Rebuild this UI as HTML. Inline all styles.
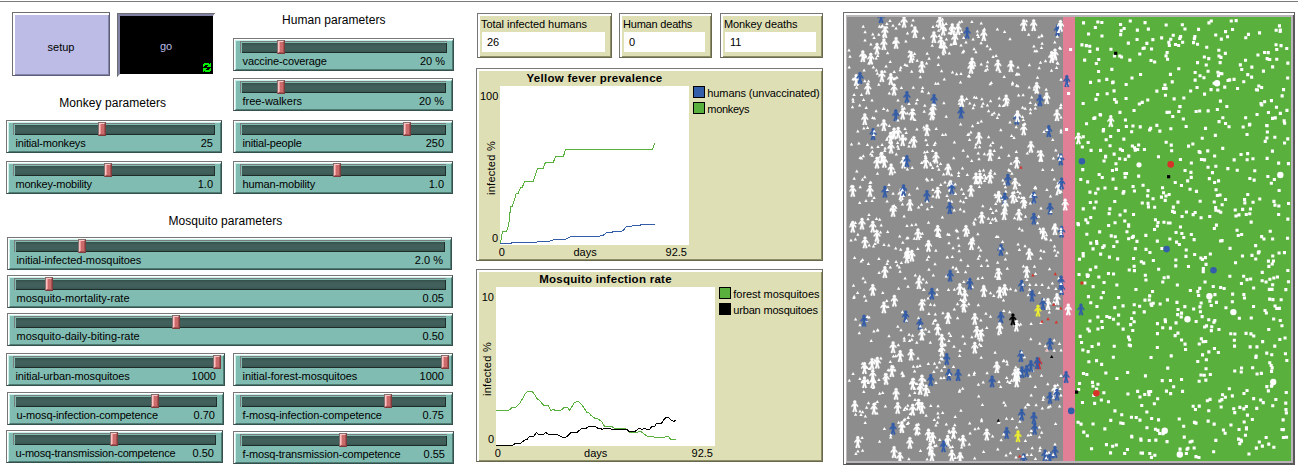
<!DOCTYPE html><html><head><meta charset="utf-8"><title>Yellow fever model</title>
<style>
html,body{margin:0;padding:0;background:#fff}
body{width:1298px;height:470px;position:relative;overflow:hidden;font-family:"Liberation Sans", sans-serif;font-size:11px;color:#000}
div,span{box-sizing:border-box}
.abs,.sl,.mon,.plot,.parea,.ptitle,.ptxt,.lbox,.note,.btn{position:absolute}
.topline{position:absolute;left:0;top:1px;width:1298px;height:1px;background:#7b7b7b}
.note{font-size:12px;letter-spacing:0.05px;white-space:nowrap;transform:translate(-50%,-50%)}
/* buttons */
.btn{border-style:solid}
.setup{left:12px;top:12px;width:98px;height:64px;border:1px solid;border-color:#6f6f6f #5c5c7c #5c5c7c #6f6f6f;background:#fff}
.setup i{position:absolute;left:2px;top:2px;right:0;bottom:0;background:#bcbce6;border-right:1px solid #8585a8;border-bottom:1px solid #8585a8}
.setup span,.go span{position:absolute;left:0;right:0;top:28px;text-align:center;font-size:11px;line-height:13px}
.go span{top:27px}
.go{left:117px;top:13px;width:98px;height:63px;border:0;background:#fff}
.go i{position:absolute;left:0;top:0;width:97px;height:63px;background:#8181a4;border-left:1px solid #6f6f6f;border-top:1px solid #6f6f6f;clip-path:polygon(0 0,100% 0,96px 3px,96px 61px,3px 61px,0 100%)}
.go b{position:absolute;left:3px;top:3px;width:93px;height:58px;background:#000}
.go span{color:#bcbce6}
/* slider */
.sl{border:1px solid;border-color:#777 #34514d #34514d #777;background:#fff}
.sl-in{position:absolute;left:1px;top:1px;right:0;bottom:0;background:#80bcb2;border:1px solid;border-color:#c9f1ea #4f7b75 #4f7b75 #c9f1ea}
.ch{position:absolute;left:4px;right:5px;top:0px;height:12px;border-left:1px solid #7b7b7b;border-top:1px solid #7b7b7b}
.ch i{position:absolute;left:1px;top:1px;right:0;bottom:0;background:linear-gradient(#35504b,#41605b 3px,#41605b 7px,#39554f);border-right:1px solid #1d2d2a;border-bottom:1px solid #1d2d2a}
.hd{position:absolute;top:-1px;width:8px;height:14px;background:#cc6b6b;border:1px solid;border-color:#85706f #7e3c3c #7e3c3c #85706f}
.hd i{position:absolute;left:0;top:0;right:0;bottom:0;border:1px solid;border-color:#fbc4c4 #a65252 #a65252 #fbc4c4;background:linear-gradient(to right,#ee9a9a 0,#ee9a9a 1px,#cc6b6b 1px)}
.sl-l{position:absolute;left:6.5px;bottom:2px;white-space:nowrap}
.sl-v{position:absolute;right:7px;bottom:2px;white-space:nowrap}
/* monitor */
.mon{border:1px solid;border-color:#777 #68684c #68684c #777;background:#fff}
.mon-in{position:absolute;left:2px;top:2px;right:0;bottom:0;background:#dfdfb6;border-right:1px solid #8e8e68;border-bottom:1px solid #8e8e68}
.mon-l{position:absolute;left:1px;top:2px;white-space:nowrap}
.mon-v{position:absolute;left:2px;right:5px;top:16px;height:20px;background:#fff}
.mon-v span{position:absolute;left:5px;top:4px}
/* plot */
.plot{border:1px solid;border-color:#777 #68684c #68684c #777;background:#dfdfb6;box-shadow:inset 2px 2px 0 #fff,inset -1px -1px 0 #8e8e68}
.parea{background:#fff}
.ptitle{font-weight:bold;font-size:11.5px;letter-spacing:0.27px;text-align:center;white-space:nowrap}
.ptxt{white-space:nowrap}
.rot{transform:rotate(-90deg)}
.lbox{width:12px;height:12px;border:1px solid #000}
/* view */
.view{position:absolute;left:843px;top:12px;width:452px;height:453px;background:#fff;border:1px solid;border-color:#6e6e6e #595959 #595959 #6e6e6e}
.view-in{position:absolute;left:2px;top:2px;right:0;bottom:0;background:#b9b5b9;border-right:1px solid #595959;border-bottom:1px solid #595959}
.view svg{position:absolute;left:3px;top:4px}
</style></head><body>
<div class="topline"></div>
<div class="btn setup"><i></i><span>setup</span></div>
<div class="btn go"><i></i><b></b><span>go</span><svg style="position:absolute;left:86px;top:50px" width="8" height="9" viewBox="0 0 8 9" shape-rendering="crispEdges"><path d="M1 0h5v1h-5zM7 0h1v1h-1zM0 1h8v1h-8zM0 2h2v1h-2zM5 2h3v1h-3zM0 3h1v1h-1zM4 3h4v1h-4zM0 5h4v1h-4zM7 5h1v1h-1zM0 6h3v1h-3zM6 6h2v1h-2zM0 7h8v1h-8zM0 8h1v1h-1zM2 8h5v1h-5z" fill="#06f006"/></svg></div>
<div class="note" style="left:333.8px;top:20px">Human parameters</div>
<div class="note" style="left:112.7px;top:103px">Monkey parameters</div>
<div class="note" style="left:225.4px;top:221px">Mosquito parameters</div>
<div class="sl" style="left:233px;top:38px;width:221px;height:33px"><div class="sl-in"><div class="ch"><i></i></div><div class="hd" style="left:41px"><i></i></div><span class="sl-l" style="letter-spacing:-0.120px">vaccine-coverage</span><span class="sl-v">20 %</span></div></div>
<div class="sl" style="left:233px;top:78px;width:220px;height:33px"><div class="sl-in"><div class="ch"><i></i></div><div class="hd" style="left:41px"><i></i></div><span class="sl-l" style="letter-spacing:-0.036px">free-walkers</span><span class="sl-v">20 %</span></div></div>
<div class="sl" style="left:6px;top:120px;width:216px;height:33px"><div class="sl-in"><div class="ch"><i></i></div><div class="hd" style="left:89px"><i></i></div><span class="sl-l" style="letter-spacing:-0.186px">initial-monkeys</span><span class="sl-v">25</span></div></div>
<div class="sl" style="left:233px;top:120px;width:220px;height:33px"><div class="sl-in"><div class="ch"><i></i></div><div class="hd" style="left:167px"><i></i></div><span class="sl-l" style="letter-spacing:-0.185px">initial-people</span><span class="sl-v">250</span></div></div>
<div class="sl" style="left:6px;top:161px;width:216px;height:33px"><div class="sl-in"><div class="ch"><i></i></div><div class="hd" style="left:95px"><i></i></div><span class="sl-l" style="letter-spacing:-0.214px">monkey-mobility</span><span class="sl-v">1.0</span></div></div>
<div class="sl" style="left:233px;top:161px;width:220px;height:33px"><div class="sl-in"><div class="ch"><i></i></div><div class="hd" style="left:97px"><i></i></div><span class="sl-l" style="letter-spacing:-0.138px">human-mobility</span><span class="sl-v">1.0</span></div></div>
<div class="sl" style="left:7px;top:237px;width:445px;height:33px"><div class="sl-in"><div class="ch"><i></i></div><div class="hd" style="left:68px"><i></i></div><span class="sl-l" style="letter-spacing:-0.092px">initial-infected-mosquitoes</span><span class="sl-v">2.0 %</span></div></div>
<div class="sl" style="left:7px;top:275px;width:446px;height:33px"><div class="sl-in"><div class="ch"><i></i></div><div class="hd" style="left:35px"><i></i></div><span class="sl-l" style="letter-spacing:0.027px">mosquito-mortality-rate</span><span class="sl-v">0.05</span></div></div>
<div class="sl" style="left:7px;top:313px;width:446px;height:33px"><div class="sl-in"><div class="ch"><i></i></div><div class="hd" style="left:162px"><i></i></div><span class="sl-l" style="letter-spacing:-0.016px">mosquito-daily-biting-rate</span><span class="sl-v">0.50</span></div></div>
<div class="sl" style="left:6px;top:353px;width:219px;height:33px"><div class="sl-in"><div class="ch"><i></i></div><div class="hd" style="left:204px"><i></i></div><span class="sl-l" style="letter-spacing:-0.113px">initial-urban-mosquitoes</span><span class="sl-v">1000</span></div></div>
<div class="sl" style="left:233px;top:353px;width:220px;height:33px"><div class="sl-in"><div class="ch"><i></i></div><div class="hd" style="left:205px"><i></i></div><span class="sl-l" style="letter-spacing:-0.058px">initial-forest-mosquitoes</span><span class="sl-v">1000</span></div></div>
<div class="sl" style="left:7px;top:392px;width:217px;height:33px"><div class="sl-in"><div class="ch"><i></i></div><div class="hd" style="left:141px"><i></i></div><span class="sl-l" style="letter-spacing:-0.131px">u-mosq-infection-competence</span><span class="sl-v">0.70</span></div></div>
<div class="sl" style="left:233px;top:392px;width:220px;height:33px"><div class="sl-in"><div class="ch"><i></i></div><div class="hd" style="left:148px"><i></i></div><span class="sl-l" style="letter-spacing:-0.092px">f-mosq-infection-competence</span><span class="sl-v">0.75</span></div></div>
<div class="sl" style="left:6px;top:430px;width:217px;height:33px"><div class="sl-in"><div class="ch"><i></i></div><div class="hd" style="left:101px"><i></i></div><span class="sl-l" style="letter-spacing:-0.193px">u-mosq-transmission-competence</span><span class="sl-v">0.50</span></div></div>
<div class="sl" style="left:233px;top:431px;width:221px;height:33px"><div class="sl-in"><div class="ch"><i></i></div><div class="hd" style="left:103px"><i></i></div><span class="sl-l" style="letter-spacing:-0.152px">f-mosq-transmission-competence</span><span class="sl-v">0.55</span></div></div>
<div class="mon" style="left:477px;top:13px;width:135px;height:45px"><div class="mon-in"><span class="mon-l" style="letter-spacing:-0.05px">Total infected humans</span><div class="mon-v"><span>26</span></div></div></div>
<div class="mon" style="left:619px;top:13px;width:93px;height:45px"><div class="mon-in"><span class="mon-l" style="letter-spacing:-0.2px">Human deaths</span><div class="mon-v"><span>0</span></div></div></div>
<div class="mon" style="left:720px;top:13px;width:103px;height:45px"><div class="mon-in"><span class="mon-l" style="letter-spacing:-0.1px">Monkey deaths</span><div class="mon-v"><span>11</span></div></div></div>
<div class="plot" style="left:476px;top:68px;width:347px;height:193px"></div>
<div class="parea" style="left:500px;top:86px;width:189px;height:159px"></div>
<div class="ptitle" style="left:444.5px;top:72px;width:300px">Yellow fever prevalence</div>
<div class="ptxt" style="left:480px;top:90px;width:18px;text-align:right">100</div>
<div class="ptxt" style="left:480px;top:232px;width:18px;text-align:right">0</div>
<div class="ptxt" style="left:498.7px;top:246px">0</div>
<div class="ptxt" style="left:535.1px;top:246px;width:100px;text-align:center">days</div>
<div class="ptxt" style="left:500px;top:246px;width:187px;text-align:right">92.5</div>
<div class="ptxt rot" style="left:440.7px;top:161.7px;width:100px;text-align:center;letter-spacing:0.27px">infected %</div>
<div class="lbox" style="left:693px;top:86px;background:#345da9"></div>
<div class="ptxt" style="left:707.3px;top:87px;letter-spacing:-0.1px">humans (unvaccinated)</div>
<div class="lbox" style="left:693px;top:102px;background:#59b03c"></div>
<div class="ptxt" style="left:707.3px;top:103px;letter-spacing:-0.3px">monkeys</div>
<div class="plot" style="left:476px;top:269px;width:347px;height:193px"></div>
<div class="parea" style="left:496px;top:287px;width:219px;height:159px"></div>
<div class="ptitle" style="left:455.5px;top:273px;width:300px">Mosquito infection rate</div>
<div class="ptxt" style="left:480px;top:291px;width:14px;text-align:right">10</div>
<div class="ptxt" style="left:480px;top:433px;width:14px;text-align:right">0</div>
<div class="ptxt" style="left:494.7px;top:447px">0</div>
<div class="ptxt" style="left:545.7px;top:447px;width:100px;text-align:center">days</div>
<div class="ptxt" style="left:496px;top:447px;width:217px;text-align:right">92.5</div>
<div class="ptxt rot" style="left:436.7px;top:362.7px;width:100px;text-align:center;letter-spacing:0.27px">infected %</div>
<div class="lbox" style="left:719px;top:287px;background:#59b03c"></div>
<div class="ptxt" style="left:733.3px;top:288px;letter-spacing:-0.04px">forest mosquitoes</div>
<div class="lbox" style="left:719px;top:303px;background:#000"></div>
<div class="ptxt" style="left:733.3px;top:304px;letter-spacing:-0.18px">urban mosquitoes</div>
<svg class="abs" style="left:0;top:0" width="1298" height="470">
<polyline points="500.3,244.1 502.5,231.6 506.6,231.6 508.6,225.3 510.7,206.4 512.3,206.4 516.3,193.5 518.2,193.2 520.5,187.6 522.4,187.3 524.5,181.3 533.3,181.3 537.4,168.4 543.3,168.4 545.5,162.2 553.4,162.2 555.5,156.5 563.4,156.5 565.6,149.6 652.5,149.6 654.6,143.0" fill="none" stroke="#59b03c" stroke-width="1" stroke-linejoin="round" shape-rendering="crispEdges"/>
<polyline points="500.3,243.7 510.7,243.5 512.3,242.5 535.8,242.5 537.7,241.6 549.6,241.3 555.3,239.3 565.6,239.3 571.3,236.2 598.6,236.2 603.2,235.3 606.6,232.4 611.3,232.4 613.8,231.6 620.7,231.6 624.1,229.7 626.4,226.2 631.4,226.2 634.6,225.3 639.6,225.3 642.5,224.4 654.6,224.4" fill="none" stroke="#345da9" stroke-width="1" stroke-linejoin="round" shape-rendering="crispEdges"/>
<polyline points="496.0,410.5 508.6,410.5 512.3,407.3 515.6,407.3 520.5,402.3 525.0,394.1 528.0,391.2 531.7,391.2 534.7,394.6 536.9,398.6 539.9,400.8 543.6,405.3 548.1,405.3 550.8,410.5 553.3,409.3 555.5,410.5 560.7,410.5 564.5,407.3 567.4,407.3 569.7,410.5 574.4,402.3 578.6,401.3 582.3,405.3 586.5,412.0 588.6,412.5 591.3,415.7 595.0,418.3 597.5,418.7 601.7,421.4 604.6,426.5 611.5,426.5 615.0,428.4 623.8,428.4 626.8,429.4 629.0,432.1 637.2,432.1 640.5,431.4 643.2,433.3 647.4,436.3 652.4,436.3 654.8,437.3 664.0,437.3 666.3,436.3 668.5,436.6 670.7,439.3 676.0,439.3" fill="none" stroke="#59b03c" stroke-width="1" stroke-linejoin="round" shape-rendering="crispEdges"/>
<polyline points="496.0,445.5 512.3,445.5 515.6,443.3 520.5,443.3 524.5,440.3 527.2,439.3 529.5,436.3 533.9,436.3 536.5,432.4 538.4,434.4 543.3,434.4 545.5,432.4 548.4,434.4 557.3,434.4 562.2,437.3 565.2,437.3 567.4,436.3 571.2,432.4 577.1,432.4 581.6,428.4 586.0,428.4 589.0,426.5 595.4,426.5 597.5,428.1 600.2,428.4 602.3,429.4 604.6,428.4 609.2,428.4 611.5,429.4 626.8,429.4 629.0,431.4 635.3,431.4 638.0,428.8 640.2,428.4 642.1,429.4 644.2,428.4 646.9,429.4 649.4,429.4 652.1,426.5 654.4,426.5 656.6,423.5 661.4,423.5 664.0,419.5 666.3,417.2 668.5,417.2 670.7,419.9 673.7,421.4 676.0,420.2" fill="none" stroke="#000" stroke-width="1" stroke-linejoin="round" shape-rendering="crispEdges"/>
</svg>
<div class="view"><div class="view-in"></div>
<svg width="444" height="444" viewBox="0 0 444 444"><defs><symbol id="p" viewBox="0 0 300 300" width="12" height="12" overflow="visible" stroke-width="5" stroke-linejoin="round"><circle cx="150" cy="45" r="40"/><polygon points="105,90 120,195 90,285 105,300 135,300 150,225 165,300 195,300 210,285 180,195 195,90"/><rect x="127" y="79" width="45" height="15"/><polygon points="195,90 240,150 225,180 165,105"/><polygon points="105,90 60,150 75,180 135,105"/></symbol></defs>
<rect x="0" y="0" width="216" height="444" fill="#8d8d8d"/>
<rect x="216" y="0" width="12" height="444" fill="#e07f96"/>
<rect x="228" y="0" width="216" height="444" fill="#59b03c"/>
<path d="M167.6 199.2l1.7 3h-3.4zM172.4 209.7l1.7 3h-3.4zM66.3 40.3l1.7 3h-3.4zM10.9 432.6l1.7 3h-3.4zM35.4 7.0l1.7 3h-3.4zM42.3 106.9l1.7 3h-3.4zM127.3 86.3l1.7 3h-3.4zM3.0 37.8l1.7 3h-3.4zM213.1 370.1l1.7 3h-3.4zM50.7 127.6l1.7 3h-3.4zM24.9 128.4l1.7 3h-3.4zM147.2 94.3l1.7 3h-3.4zM209.8 175.3l1.7 3h-3.4zM167.0 119.1l1.7 3h-3.4zM88.9 406.5l1.7 3h-3.4zM4.3 205.0l1.7 3h-3.4zM96.9 84.3l1.7 3h-3.4zM138.5 51.7l1.7 3h-3.4zM185.2 429.3l1.7 3h-3.4zM6.2 82.8l1.7 3h-3.4zM10.9 64.8l1.7 3h-3.4zM131.4 365.7l1.7 3h-3.4zM125.5 107.3l1.7 3h-3.4zM98.1 422.4l1.7 3h-3.4zM83.9 276.4l1.7 3h-3.4zM131.4 319.6l1.7 3h-3.4zM43.7 418.5l1.7 3h-3.4zM91.3 46.1l1.7 3h-3.4zM158.8 172.7l1.7 3h-3.4zM106.1 229.2l1.7 3h-3.4zM50.4 246.5l1.7 3h-3.4zM61.4 404.0l1.7 3h-3.4zM89.2 110.0l1.7 3h-3.4zM114.6 428.5l1.7 3h-3.4zM209.9 289.5l1.7 3h-3.4zM31.8 15.8l1.7 3h-3.4zM68.1 15.2l1.7 3h-3.4zM16.3 137.3l1.7 3h-3.4zM117.8 324.7l1.7 3h-3.4zM151.2 349.4l1.7 3h-3.4zM102.3 34.6l1.7 3h-3.4zM8.4 220.4l1.7 3h-3.4zM125.5 268.3l1.7 3h-3.4zM212.6 387.5l1.7 3h-3.4zM149.2 201.8l1.7 3h-3.4zM112.0 226.8l1.7 3h-3.4zM50.8 307.7l1.7 3h-3.4zM197.1 113.0l1.7 3h-3.4zM131.7 228.5l1.7 3h-3.4zM199.2 219.7l1.7 3h-3.4zM44.1 190.0l1.7 3h-3.4zM188.6 169.5l1.7 3h-3.4zM30.5 154.7l1.7 3h-3.4zM15.6 431.8l1.7 3h-3.4zM60.3 94.6l1.7 3h-3.4zM106.7 139.2l1.7 3h-3.4zM69.9 365.0l1.7 3h-3.4zM145.8 124.1l1.7 3h-3.4zM6.1 60.2l1.7 3h-3.4zM177.9 104.9l1.7 3h-3.4zM26.4 48.4l1.7 3h-3.4zM80.2 34.7l1.7 3h-3.4zM39.9 5.1l1.7 3h-3.4zM40.0 120.2l1.7 3h-3.4zM108.1 439.0l1.7 3h-3.4zM150.4 98.9l1.7 3h-3.4zM29.5 200.0l1.7 3h-3.4zM81.9 250.7l1.7 3h-3.4zM74.7 144.0l1.7 3h-3.4zM185.6 351.7l1.7 3h-3.4zM192.8 431.8l1.7 3h-3.4zM169.6 141.4l1.7 3h-3.4zM109.0 16.7l1.7 3h-3.4zM60.4 405.1l1.7 3h-3.4zM171.6 76.5l1.7 3h-3.4zM31.8 65.8l1.7 3h-3.4zM145.7 194.1l1.7 3h-3.4zM148.1 333.8l1.7 3h-3.4zM156.5 281.5l1.7 3h-3.4zM120.7 137.5l1.7 3h-3.4zM131.2 134.4l1.7 3h-3.4zM59.9 219.4l1.7 3h-3.4zM130.3 12.6l1.7 3h-3.4zM86.9 352.9l1.7 3h-3.4zM37.4 410.0l1.7 3h-3.4zM171.7 178.2l1.7 3h-3.4zM93.9 359.3l1.7 3h-3.4zM69.2 84.6l1.7 3h-3.4zM150.8 430.4l1.7 3h-3.4zM4.5 125.4l1.7 3h-3.4zM24.2 322.0l1.7 3h-3.4zM55.1 87.4l1.7 3h-3.4zM136.2 363.5l1.7 3h-3.4zM185.1 235.4l1.7 3h-3.4zM131.7 377.4l1.7 3h-3.4zM173.8 397.6l1.7 3h-3.4zM43.3 342.9l1.7 3h-3.4zM190.5 58.7l1.7 3h-3.4zM178.4 185.9l1.7 3h-3.4zM87.4 301.9l1.7 3h-3.4zM77.8 361.6l1.7 3h-3.4zM136.5 151.5l1.7 3h-3.4zM104.2 11.1l1.7 3h-3.4zM193.9 212.2l1.7 3h-3.4zM180.1 436.1l1.7 3h-3.4zM15.1 419.1l1.7 3h-3.4zM84.9 188.0l1.7 3h-3.4zM81.1 279.4l1.7 3h-3.4zM98.2 325.7l1.7 3h-3.4zM37.0 225.9l1.7 3h-3.4zM180.5 385.7l1.7 3h-3.4zM122.8 84.4l1.7 3h-3.4zM56.8 401.4l1.7 3h-3.4zM174.7 178.9l1.7 3h-3.4zM80.4 190.3l1.7 3h-3.4zM41.2 351.2l1.7 3h-3.4zM77.4 281.4l1.7 3h-3.4zM202.3 293.5l1.7 3h-3.4zM40.6 34.2l1.7 3h-3.4zM47.2 53.0l1.7 3h-3.4zM132.5 325.5l1.7 3h-3.4zM12.7 86.4l1.7 3h-3.4zM60.4 150.4l1.7 3h-3.4zM112.4 372.8l1.7 3h-3.4zM18.2 263.3l1.7 3h-3.4zM199.2 70.8l1.7 3h-3.4zM116.9 262.9l1.7 3h-3.4zM62.3 175.8l1.7 3h-3.4zM140.9 247.1l1.7 3h-3.4zM64.8 6.6l1.7 3h-3.4zM88.7 301.5l1.7 3h-3.4zM86.3 256.4l1.7 3h-3.4zM194.0 189.4l1.7 3h-3.4zM53.7 230.7l1.7 3h-3.4zM32.6 422.8l1.7 3h-3.4zM12.7 183.9l1.7 3h-3.4zM114.0 55.1l1.7 3h-3.4zM98.6 115.7l1.7 3h-3.4zM159.7 359.1l1.7 3h-3.4zM29.3 212.1l1.7 3h-3.4zM134.5 158.4l1.7 3h-3.4zM121.8 260.7l1.7 3h-3.4zM203.8 221.3l1.7 3h-3.4zM146.8 276.9l1.7 3h-3.4zM134.2 45.5l1.7 3h-3.4zM20.3 298.0l1.7 3h-3.4zM104.6 156.2l1.7 3h-3.4zM30.3 383.0l1.7 3h-3.4zM134.2 338.7l1.7 3h-3.4zM56.7 356.7l1.7 3h-3.4zM128.5 128.4l1.7 3h-3.4zM41.0 288.1l1.7 3h-3.4zM18.6 36.9l1.7 3h-3.4zM147.3 131.9l1.7 3h-3.4zM195.1 266.0l1.7 3h-3.4zM164.0 144.7l1.7 3h-3.4zM155.9 161.6l1.7 3h-3.4zM122.7 404.6l1.7 3h-3.4zM114.4 437.0l1.7 3h-3.4zM207.2 321.5l1.7 3h-3.4zM79.5 160.3l1.7 3h-3.4zM43.3 248.5l1.7 3h-3.4zM127.3 78.4l1.7 3h-3.4zM183.2 357.6l1.7 3h-3.4zM122.3 425.6l1.7 3h-3.4zM15.6 241.0l1.7 3h-3.4zM60.0 46.8l1.7 3h-3.4zM140.6 43.3l1.7 3h-3.4zM48.7 337.2l1.7 3h-3.4zM85.6 149.0l1.7 3h-3.4zM115.9 317.6l1.7 3h-3.4zM89.0 363.9l1.7 3h-3.4zM82.1 39.7l1.7 3h-3.4zM7.2 159.7l1.7 3h-3.4zM91.1 64.7l1.7 3h-3.4zM81.6 74.2l1.7 3h-3.4zM60.1 390.3l1.7 3h-3.4zM66.3 68.8l1.7 3h-3.4zM99.3 257.4l1.7 3h-3.4zM25.0 81.6l1.7 3h-3.4zM102.0 224.2l1.7 3h-3.4zM87.3 401.1l1.7 3h-3.4zM175.2 211.4l1.7 3h-3.4zM195.8 150.9l1.7 3h-3.4zM184.9 176.1l1.7 3h-3.4zM171.2 429.9l1.7 3h-3.4zM211.9 289.7l1.7 3h-3.4zM102.2 163.9l1.7 3h-3.4zM187.5 183.3l1.7 3h-3.4zM194.5 356.8l1.7 3h-3.4zM58.5 235.6l1.7 3h-3.4zM2.3 361.8l1.7 3h-3.4zM76.6 270.9l1.7 3h-3.4zM149.1 36.9l1.7 3h-3.4zM66.4 347.7l1.7 3h-3.4zM21.3 364.0l1.7 3h-3.4zM106.8 416.9l1.7 3h-3.4zM88.0 245.2l1.7 3h-3.4zM17.8 62.2l1.7 3h-3.4zM160.3 345.5l1.7 3h-3.4zM82.0 312.8l1.7 3h-3.4zM99.1 5.0l1.7 3h-3.4zM132.6 128.2l1.7 3h-3.4zM65.2 148.9l1.7 3h-3.4zM42.0 166.1l1.7 3h-3.4zM60.0 207.1l1.7 3h-3.4zM21.6 62.4l1.7 3h-3.4zM152.2 79.5l1.7 3h-3.4zM151.2 44.6l1.7 3h-3.4zM94.0 339.7l1.7 3h-3.4zM110.5 285.2l1.7 3h-3.4zM83.8 146.2l1.7 3h-3.4zM132.0 140.2l1.7 3h-3.4zM210.9 233.6l1.7 3h-3.4zM140.0 47.2l1.7 3h-3.4zM169.2 363.5l1.7 3h-3.4zM116.2 131.7l1.7 3h-3.4zM110.9 253.0l1.7 3h-3.4zM153.7 368.0l1.7 3h-3.4zM134.9 87.5l1.7 3h-3.4zM90.5 147.2l1.7 3h-3.4zM58.4 388.9l1.7 3h-3.4zM193.7 239.5l1.7 3h-3.4zM58.0 400.5l1.7 3h-3.4zM28.0 363.2l1.7 3h-3.4zM53.1 252.8l1.7 3h-3.4zM174.0 200.3l1.7 3h-3.4zM199.1 439.9l1.7 3h-3.4zM158.4 168.3l1.7 3h-3.4zM5.5 88.2l1.7 3h-3.4zM27.1 178.9l1.7 3h-3.4zM53.8 410.4l1.7 3h-3.4zM144.3 64.1l1.7 3h-3.4zM101.6 181.4l1.7 3h-3.4zM88.3 124.3l1.7 3h-3.4zM194.0 304.1l1.7 3h-3.4zM193.9 231.8l1.7 3h-3.4zM193.7 141.5l1.7 3h-3.4zM93.8 166.1l1.7 3h-3.4zM189.1 386.3l1.7 3h-3.4zM108.6 175.0l1.7 3h-3.4zM113.6 105.6l1.7 3h-3.4zM188.5 440.1l1.7 3h-3.4zM80.2 240.7l1.7 3h-3.4zM160.3 249.8l1.7 3h-3.4zM170.0 54.9l1.7 3h-3.4zM64.8 320.8l1.7 3h-3.4zM95.4 198.4l1.7 3h-3.4zM126.1 20.6l1.7 3h-3.4zM67.3 219.7l1.7 3h-3.4zM188.3 89.6l1.7 3h-3.4zM14.5 139.4l1.7 3h-3.4zM38.4 387.5l1.7 3h-3.4zM136.1 84.7l1.7 3h-3.4zM66.9 360.2l1.7 3h-3.4zM91.1 387.2l1.7 3h-3.4zM96.4 35.2l1.7 3h-3.4zM152.6 86.8l1.7 3h-3.4zM64.6 120.7l1.7 3h-3.4zM26.5 227.4l1.7 3h-3.4zM49.9 58.7l1.7 3h-3.4zM18.2 404.0l1.7 3h-3.4zM129.1 125.6l1.7 3h-3.4zM20.5 125.9l1.7 3h-3.4zM157.6 13.1l1.7 3h-3.4zM192.4 274.0l1.7 3h-3.4zM199.0 220.4l1.7 3h-3.4zM138.7 158.6l1.7 3h-3.4zM63.8 364.3l1.7 3h-3.4zM159.8 234.3l1.7 3h-3.4zM130.9 104.0l1.7 3h-3.4zM168.8 348.5l1.7 3h-3.4zM182.8 265.9l1.7 3h-3.4zM207.8 23.5l1.7 3h-3.4zM34.2 8.2l1.7 3h-3.4zM95.6 116.1l1.7 3h-3.4zM39.8 281.9l1.7 3h-3.4zM134.1 24.2l1.7 3h-3.4zM133.7 231.6l1.7 3h-3.4zM20.8 361.4l1.7 3h-3.4zM107.3 290.4l1.7 3h-3.4zM68.9 205.8l1.7 3h-3.4zM10.9 215.8l1.7 3h-3.4zM32.7 200.7l1.7 3h-3.4zM88.9 231.7l1.7 3h-3.4zM102.0 412.0l1.7 3h-3.4zM208.9 269.9l1.7 3h-3.4zM183.3 184.5l1.7 3h-3.4zM73.5 432.1l1.7 3h-3.4zM87.4 286.3l1.7 3h-3.4zM195.3 389.5l1.7 3h-3.4zM184.3 412.0l1.7 3h-3.4zM47.7 153.3l1.7 3h-3.4zM36.7 90.0l1.7 3h-3.4zM102.2 216.1l1.7 3h-3.4zM105.3 238.1l1.7 3h-3.4zM78.9 121.2l1.7 3h-3.4zM57.6 173.3l1.7 3h-3.4zM23.9 25.6l1.7 3h-3.4zM31.1 106.4l1.7 3h-3.4zM70.3 169.5l1.7 3h-3.4zM71.0 339.5l1.7 3h-3.4zM130.9 215.3l1.7 3h-3.4zM29.1 92.2l1.7 3h-3.4zM30.8 311.3l1.7 3h-3.4zM143.2 65.2l1.7 3h-3.4zM97.3 60.5l1.7 3h-3.4zM23.8 163.4l1.7 3h-3.4zM7.2 277.8l1.7 3h-3.4zM208.8 131.6l1.7 3h-3.4zM120.3 155.9l1.7 3h-3.4zM81.3 345.1l1.7 3h-3.4zM85.2 26.8l1.7 3h-3.4zM107.4 123.5l1.7 3h-3.4zM164.9 154.7l1.7 3h-3.4zM159.5 399.7l1.7 3h-3.4zM150.7 243.8l1.7 3h-3.4zM85.0 160.7l1.7 3h-3.4zM82.0 373.0l1.7 3h-3.4zM189.8 32.2l1.7 3h-3.4zM121.9 115.6l1.7 3h-3.4zM101.5 271.1l1.7 3h-3.4zM151.9 95.7l1.7 3h-3.4zM117.1 270.0l1.7 3h-3.4zM188.5 168.4l1.7 3h-3.4zM30.8 223.5l1.7 3h-3.4zM6.5 266.8l1.7 3h-3.4zM48.7 229.5l1.7 3h-3.4zM52.7 217.6l1.7 3h-3.4zM134.4 247.1l1.7 3h-3.4zM58.0 46.1l1.7 3h-3.4zM46.1 174.7l1.7 3h-3.4zM35.8 273.9l1.7 3h-3.4zM80.3 126.1l1.7 3h-3.4zM139.0 159.8l1.7 3h-3.4zM158.4 386.5l1.7 3h-3.4zM67.8 373.9l1.7 3h-3.4zM10.6 273.9l1.7 3h-3.4zM55.8 223.7l1.7 3h-3.4zM153.8 111.2l1.7 3h-3.4zM183.5 90.5l1.7 3h-3.4zM210.5 282.5l1.7 3h-3.4zM171.9 55.5l1.7 3h-3.4zM51.0 81.6l1.7 3h-3.4zM169.6 408.5l1.7 3h-3.4zM55.4 293.3l1.7 3h-3.4zM12.3 314.2l1.7 3h-3.4zM62.6 322.1l1.7 3h-3.4zM7.6 239.1l1.7 3h-3.4zM67.6 352.6l1.7 3h-3.4zM155.0 180.0l1.7 3h-3.4zM145.1 95.7l1.7 3h-3.4zM39.1 47.5l1.7 3h-3.4zM105.5 53.4l1.7 3h-3.4zM122.6 120.9l1.7 3h-3.4zM19.2 88.9l1.7 3h-3.4zM15.6 393.2l1.7 3h-3.4zM40.7 213.1l1.7 3h-3.4zM104.7 182.8l1.7 3h-3.4zM14.2 242.6l1.7 3h-3.4zM42.0 128.4l1.7 3h-3.4zM123.1 414.4l1.7 3h-3.4zM37.8 52.7l1.7 3h-3.4zM161.8 136.8l1.7 3h-3.4zM15.5 160.8l1.7 3h-3.4zM54.0 407.2l1.7 3h-3.4zM177.5 338.2l1.7 3h-3.4zM203.5 177.4l1.7 3h-3.4zM134.2 4.6l1.7 3h-3.4zM155.6 223.1l1.7 3h-3.4zM137.3 156.2l1.7 3h-3.4zM70.2 41.8l1.7 3h-3.4zM11.9 57.9l1.7 3h-3.4zM75.7 68.9l1.7 3h-3.4zM4.0 221.5l1.7 3h-3.4zM115.9 419.4l1.7 3h-3.4zM16.1 259.6l1.7 3h-3.4zM102.3 413.4l1.7 3h-3.4zM39.7 120.7l1.7 3h-3.4zM70.3 81.1l1.7 3h-3.4zM156.8 291.9l1.7 3h-3.4zM132.7 152.0l1.7 3h-3.4zM109.0 250.2l1.7 3h-3.4zM148.2 199.8l1.7 3h-3.4zM108.3 165.6l1.7 3h-3.4zM197.0 232.8l1.7 3h-3.4zM128.0 410.3l1.7 3h-3.4zM212.5 325.1l1.7 3h-3.4zM119.0 23.5l1.7 3h-3.4zM192.2 49.3l1.7 3h-3.4zM200.8 365.3l1.7 3h-3.4zM212.7 28.9l1.7 3h-3.4zM111.7 153.9l1.7 3h-3.4zM92.5 215.6l1.7 3h-3.4zM95.4 333.5l1.7 3h-3.4zM107.3 25.0l1.7 3h-3.4zM170.9 67.2l1.7 3h-3.4zM9.8 152.5l1.7 3h-3.4zM90.2 270.7l1.7 3h-3.4zM100.7 215.6l1.7 3h-3.4zM135.4 386.1l1.7 3h-3.4zM143.7 189.9l1.7 3h-3.4zM181.1 416.6l1.7 3h-3.4zM46.4 337.6l1.7 3h-3.4zM29.4 51.5l1.7 3h-3.4zM77.8 86.7l1.7 3h-3.4zM78.4 136.9l1.7 3h-3.4zM135.8 187.3l1.7 3h-3.4zM30.4 54.8l1.7 3h-3.4zM90.6 217.1l1.7 3h-3.4zM62.7 376.4l1.7 3h-3.4zM199.9 171.0l1.7 3h-3.4zM137.6 161.9l1.7 3h-3.4zM141.6 118.2l1.7 3h-3.4zM53.9 181.5l1.7 3h-3.4zM55.4 185.5l1.7 3h-3.4zM165.0 46.3l1.7 3h-3.4zM46.4 348.0l1.7 3h-3.4zM143.9 151.7l1.7 3h-3.4zM6.9 278.9l1.7 3h-3.4zM109.2 211.4l1.7 3h-3.4zM49.1 9.6l1.7 3h-3.4zM139.8 308.9l1.7 3h-3.4zM100.0 177.0l1.7 3h-3.4zM125.9 219.2l1.7 3h-3.4zM22.3 350.0l1.7 3h-3.4zM134.1 326.9l1.7 3h-3.4zM156.9 341.8l1.7 3h-3.4zM80.6 161.5l1.7 3h-3.4zM25.1 182.1l1.7 3h-3.4zM169.3 133.1l1.7 3h-3.4zM122.4 57.5l1.7 3h-3.4zM76.8 108.6l1.7 3h-3.4zM211.8 259.5l1.7 3h-3.4zM182.4 46.3l1.7 3h-3.4zM207.7 231.4l1.7 3h-3.4zM153.1 52.7l1.7 3h-3.4zM171.0 48.6l1.7 3h-3.4zM114.6 13.0l1.7 3h-3.4zM206.8 283.3l1.7 3h-3.4zM65.5 94.9l1.7 3h-3.4zM90.9 394.5l1.7 3h-3.4zM202.6 250.3l1.7 3h-3.4zM85.6 132.1l1.7 3h-3.4zM19.9 348.7l1.7 3h-3.4zM72.8 51.8l1.7 3h-3.4zM113.9 241.3l1.7 3h-3.4zM23.0 164.0l1.7 3h-3.4zM112.2 232.2l1.7 3h-3.4zM127.8 46.6l1.7 3h-3.4zM79.5 263.5l1.7 3h-3.4zM131.1 259.8l1.7 3h-3.4zM162.8 152.1l1.7 3h-3.4zM127.0 355.8l1.7 3h-3.4zM87.3 126.1l1.7 3h-3.4zM210.6 366.3l1.7 3h-3.4zM35.1 126.0l1.7 3h-3.4zM106.0 174.3l1.7 3h-3.4zM137.4 10.2l1.7 3h-3.4zM124.9 2.9l1.7 3h-3.4zM134.6 402.3l1.7 3h-3.4zM19.7 301.9l1.7 3h-3.4zM94.6 52.3l1.7 3h-3.4zM17.1 51.4l1.7 3h-3.4zM152.9 309.7l1.7 3h-3.4zM140.4 50.5l1.7 3h-3.4zM115.7 369.7l1.7 3h-3.4zM102.1 14.2l1.7 3h-3.4zM151.0 217.9l1.7 3h-3.4zM110.4 212.4l1.7 3h-3.4zM126.2 89.3l1.7 3h-3.4zM76.1 260.6l1.7 3h-3.4zM126.8 203.8l1.7 3h-3.4zM151.2 174.8l1.7 3h-3.4zM57.4 321.8l1.7 3h-3.4zM15.6 363.3l1.7 3h-3.4zM194.5 29.1l1.7 3h-3.4zM114.6 170.6l1.7 3h-3.4zM23.7 135.3l1.7 3h-3.4zM150.1 250.4l1.7 3h-3.4zM96.7 427.6l1.7 3h-3.4zM54.4 69.1l1.7 3h-3.4zM75.0 72.2l1.7 3h-3.4zM213.2 162.6l1.7 3h-3.4zM154.3 128.4l1.7 3h-3.4zM58.1 110.0l1.7 3h-3.4zM143.6 126.4l1.7 3h-3.4zM18.1 13.2l1.7 3h-3.4zM187.2 70.8l1.7 3h-3.4zM131.2 239.7l1.7 3h-3.4zM151.0 259.7l1.7 3h-3.4zM92.5 343.6l1.7 3h-3.4zM98.0 163.4l1.7 3h-3.4zM109.2 249.4l1.7 3h-3.4zM118.6 253.3l1.7 3h-3.4zM66.1 1.6l1.7 3h-3.4zM211.6 136.5l1.7 3h-3.4zM143.3 30.3l1.7 3h-3.4zM193.2 429.1l1.7 3h-3.4zM117.0 192.6l1.7 3h-3.4z" fill="#fff"/>
<path d="M372.4 38.8h3.1v3.1h-3.1zM375.6 269.9h3.1v3.1h-3.1zM424.2 387.2h3.1v3.1h-3.1zM250.5 62.2h3.1v3.1h-3.1zM269.7 305.4h3.1v3.1h-3.1zM235.2 413.6h3.1v3.1h-3.1zM418.6 40.1h3.1v3.1h-3.1zM418.8 113.4h3.1v3.1h-3.1zM275.3 120.6h3.1v3.1h-3.1zM260.9 238.6h3.1v3.1h-3.1zM413.1 68.9h3.1v3.1h-3.1zM319.2 349.6h3.1v3.1h-3.1zM357.5 350.2h3.1v3.1h-3.1zM439.3 251.9h3.1v3.1h-3.1zM418.6 139.8h3.1v3.1h-3.1zM264.8 338.7h3.1v3.1h-3.1zM262.2 401.8h3.1v3.1h-3.1zM252.0 131.8h3.1v3.1h-3.1zM292.5 434.4h3.1v3.1h-3.1zM316.4 66.5h3.1v3.1h-3.1zM268.3 266.5h3.1v3.1h-3.1zM407.6 337.6h3.1v3.1h-3.1zM370.5 37.5h3.1v3.1h-3.1zM307.3 421.6h3.1v3.1h-3.1zM274.6 174.6h3.1v3.1h-3.1zM278.0 154.9h3.1v3.1h-3.1zM275.3 173.1h3.1v3.1h-3.1zM418.6 107.2h3.1v3.1h-3.1zM239.1 163.3h3.1v3.1h-3.1zM381.5 229.8h3.1v3.1h-3.1zM303.2 287.0h3.1v3.1h-3.1zM425.4 182.8h3.1v3.1h-3.1zM271.4 93.8h3.1v3.1h-3.1zM324.2 98.0h3.1v3.1h-3.1zM422.9 82.1h3.1v3.1h-3.1zM372.1 268.9h3.1v3.1h-3.1zM354.7 253.1h3.1v3.1h-3.1zM350.0 10.8h3.1v3.1h-3.1zM294.6 29.9h3.1v3.1h-3.1zM336.5 325.6h3.1v3.1h-3.1zM272.1 16.1h3.1v3.1h-3.1zM281.3 41.6h3.1v3.1h-3.1zM373.5 222.1h3.1v3.1h-3.1zM322.2 20.7h3.1v3.1h-3.1zM346.6 61.6h3.1v3.1h-3.1zM370.3 31.7h3.1v3.1h-3.1zM244.4 367.7h3.1v3.1h-3.1zM440.0 185.0h3.1v3.1h-3.1zM370.5 103.1h3.1v3.1h-3.1zM438.4 91.8h3.1v3.1h-3.1zM420.3 247.8h3.1v3.1h-3.1zM428.2 30.9h3.1v3.1h-3.1zM434.6 401.3h3.1v3.1h-3.1zM240.0 15.4h3.1v3.1h-3.1zM430.3 187.5h3.1v3.1h-3.1zM262.4 30.7h3.1v3.1h-3.1zM262.7 217.3h3.1v3.1h-3.1zM276.7 140.8h3.1v3.1h-3.1zM258.2 60.8h3.1v3.1h-3.1zM398.6 141.2h3.1v3.1h-3.1zM238.0 105.2h3.1v3.1h-3.1zM377.0 105.0h3.1v3.1h-3.1zM408.2 389.8h3.1v3.1h-3.1zM370.0 162.3h3.1v3.1h-3.1zM382.4 406.5h3.1v3.1h-3.1zM259.9 383.2h3.1v3.1h-3.1zM436.5 319.5h3.1v3.1h-3.1zM371.7 55.1h3.1v3.1h-3.1zM296.8 256.7h3.1v3.1h-3.1zM286.8 230.1h3.1v3.1h-3.1zM401.2 195.2h3.1v3.1h-3.1zM398.5 115.9h3.1v3.1h-3.1zM248.4 287.9h3.1v3.1h-3.1zM232.5 405.6h3.1v3.1h-3.1zM434.8 411.1h3.1v3.1h-3.1zM371.9 82.6h3.1v3.1h-3.1zM432.6 281.2h3.1v3.1h-3.1zM251.1 213.3h3.1v3.1h-3.1zM417.5 263.4h3.1v3.1h-3.1zM302.9 438.8h3.1v3.1h-3.1zM332.1 18.1h3.1v3.1h-3.1zM260.1 206.9h3.1v3.1h-3.1zM372.2 193.7h3.1v3.1h-3.1zM352.3 239.5h3.1v3.1h-3.1zM288.5 21.0h3.1v3.1h-3.1zM313.7 362.1h3.1v3.1h-3.1zM431.8 11.6h3.1v3.1h-3.1zM318.5 423.1h3.1v3.1h-3.1zM358.2 28.7h3.1v3.1h-3.1zM234.2 151.1h3.1v3.1h-3.1zM264.1 427.7h3.1v3.1h-3.1zM300.0 373.2h3.1v3.1h-3.1zM347.6 302.9h3.1v3.1h-3.1zM281.9 327.1h3.1v3.1h-3.1zM264.1 64.1h3.1v3.1h-3.1zM351.2 269.8h3.1v3.1h-3.1zM319.6 258.6h3.1v3.1h-3.1zM283.1 417.8h3.1v3.1h-3.1zM332.7 298.5h3.1v3.1h-3.1zM360.2 392.2h3.1v3.1h-3.1zM367.9 206.6h3.1v3.1h-3.1zM347.5 404.6h3.1v3.1h-3.1zM390.5 411.0h3.1v3.1h-3.1zM295.2 244.6h3.1v3.1h-3.1zM314.2 309.2h3.1v3.1h-3.1zM300.7 281.5h3.1v3.1h-3.1zM362.7 2.4h3.1v3.1h-3.1zM330.2 50.2h3.1v3.1h-3.1zM386.2 352.4h3.1v3.1h-3.1zM366.3 302.0h3.1v3.1h-3.1zM368.8 177.0h3.1v3.1h-3.1zM334.0 372.8h3.1v3.1h-3.1zM349.0 25.7h3.1v3.1h-3.1zM296.4 281.6h3.1v3.1h-3.1zM242.0 63.8h3.1v3.1h-3.1zM234.7 237.4h3.1v3.1h-3.1zM239.6 124.0h3.1v3.1h-3.1zM239.7 257.0h3.1v3.1h-3.1zM313.1 19.3h3.1v3.1h-3.1zM270.1 279.0h3.1v3.1h-3.1zM250.6 156.0h3.1v3.1h-3.1zM241.3 32.8h3.1v3.1h-3.1zM410.3 67.5h3.1v3.1h-3.1zM295.7 293.3h3.1v3.1h-3.1zM335.1 407.7h3.1v3.1h-3.1zM365.4 303.7h3.1v3.1h-3.1zM323.1 132.2h3.1v3.1h-3.1zM369.9 57.2h3.1v3.1h-3.1zM281.1 321.2h3.1v3.1h-3.1zM286.7 131.7h3.1v3.1h-3.1zM414.9 52.6h3.1v3.1h-3.1zM329.4 314.6h3.1v3.1h-3.1zM238.3 356.0h3.1v3.1h-3.1zM430.8 289.8h3.1v3.1h-3.1zM328.4 283.8h3.1v3.1h-3.1zM371.5 176.5h3.1v3.1h-3.1zM427.3 380.9h3.1v3.1h-3.1zM435.0 71.1h3.1v3.1h-3.1zM283.8 127.5h3.1v3.1h-3.1zM311.3 112.6h3.1v3.1h-3.1zM357.8 341.2h3.1v3.1h-3.1zM284.2 311.9h3.1v3.1h-3.1zM365.9 329.9h3.1v3.1h-3.1zM370.2 192.5h3.1v3.1h-3.1zM315.0 174.2h3.1v3.1h-3.1zM387.6 2.1h3.1v3.1h-3.1zM284.8 217.8h3.1v3.1h-3.1zM424.0 99.8h3.1v3.1h-3.1zM379.0 18.2h3.1v3.1h-3.1zM415.4 220.5h3.1v3.1h-3.1zM435.6 102.3h3.1v3.1h-3.1zM359.5 52.7h3.1v3.1h-3.1zM261.3 190.3h3.1v3.1h-3.1zM327.5 304.3h3.1v3.1h-3.1zM234.7 118.2h3.1v3.1h-3.1zM391.8 46.3h3.1v3.1h-3.1zM298.3 24.8h3.1v3.1h-3.1zM234.6 234.9h3.1v3.1h-3.1zM351.5 134.0h3.1v3.1h-3.1zM326.9 25.9h3.1v3.1h-3.1zM252.0 96.5h3.1v3.1h-3.1zM438.2 29.9h3.1v3.1h-3.1zM249.4 310.5h3.1v3.1h-3.1zM239.6 333.1h3.1v3.1h-3.1zM340.0 127.6h3.1v3.1h-3.1zM425.8 160.9h3.1v3.1h-3.1zM320.6 175.9h3.1v3.1h-3.1zM300.7 421.9h3.1v3.1h-3.1zM291.4 378.5h3.1v3.1h-3.1zM409.8 234.3h3.1v3.1h-3.1zM274.5 404.9h3.1v3.1h-3.1zM395.6 403.4h3.1v3.1h-3.1zM245.7 189.5h3.1v3.1h-3.1zM329.4 183.6h3.1v3.1h-3.1zM361.8 356.0h3.1v3.1h-3.1zM424.1 220.5h3.1v3.1h-3.1zM428.9 258.4h3.1v3.1h-3.1zM317.6 6.4h3.1v3.1h-3.1zM247.4 80.8h3.1v3.1h-3.1zM437.3 271.1h3.1v3.1h-3.1zM267.8 426.4h3.1v3.1h-3.1zM395.1 257.7h3.1v3.1h-3.1zM426.3 118.7h3.1v3.1h-3.1zM397.2 19.2h3.1v3.1h-3.1zM241.2 27.7h3.1v3.1h-3.1zM434.9 418.9h3.1v3.1h-3.1zM269.9 111.9h3.1v3.1h-3.1zM419.9 242.6h3.1v3.1h-3.1zM229.4 205.1h3.1v3.1h-3.1zM358.8 382.2h3.1v3.1h-3.1zM439.0 219.7h3.1v3.1h-3.1zM394.6 108.5h3.1v3.1h-3.1zM400.9 106.3h3.1v3.1h-3.1zM411.2 180.5h3.1v3.1h-3.1zM247.3 248.6h3.1v3.1h-3.1zM280.7 251.4h3.1v3.1h-3.1zM314.0 169.2h3.1v3.1h-3.1zM385.8 321.7h3.1v3.1h-3.1zM359.6 92.3h3.1v3.1h-3.1zM280.7 326.5h3.1v3.1h-3.1zM437.2 384.6h3.1v3.1h-3.1zM424.4 281.1h3.1v3.1h-3.1zM299.8 10.6h3.1v3.1h-3.1zM405.2 317.5h3.1v3.1h-3.1zM350.7 325.5h3.1v3.1h-3.1zM412.5 85.1h3.1v3.1h-3.1zM236.1 41.6h3.1v3.1h-3.1zM285.5 91.9h3.1v3.1h-3.1zM368.8 90.9h3.1v3.1h-3.1zM320.8 93.7h3.1v3.1h-3.1zM233.9 384.0h3.1v3.1h-3.1zM360.2 40.1h3.1v3.1h-3.1zM384.1 275.6h3.1v3.1h-3.1zM345.1 290.4h3.1v3.1h-3.1zM372.0 222.5h3.1v3.1h-3.1zM397.9 409.3h3.1v3.1h-3.1zM416.0 33.9h3.1v3.1h-3.1zM276.9 101.4h3.1v3.1h-3.1zM356.5 263.5h3.1v3.1h-3.1zM439.3 200.6h3.1v3.1h-3.1zM273.9 132.0h3.1v3.1h-3.1zM355.8 38.4h3.1v3.1h-3.1zM352.8 320.2h3.1v3.1h-3.1zM347.9 172.8h3.1v3.1h-3.1zM406.2 152.2h3.1v3.1h-3.1zM319.0 40.7h3.1v3.1h-3.1zM309.1 380.2h3.1v3.1h-3.1zM292.2 420.6h3.1v3.1h-3.1zM386.7 191.4h3.1v3.1h-3.1zM334.1 23.7h3.1v3.1h-3.1zM274.5 287.3h3.1v3.1h-3.1zM243.0 430.2h3.1v3.1h-3.1zM379.3 150.1h3.1v3.1h-3.1zM306.0 210.9h3.1v3.1h-3.1zM283.1 300.0h3.1v3.1h-3.1zM315.0 70.0h3.1v3.1h-3.1zM234.3 331.4h3.1v3.1h-3.1zM352.4 356.5h3.1v3.1h-3.1zM336.4 10.4h3.1v3.1h-3.1zM388.7 151.7h3.1v3.1h-3.1zM430.1 144.6h3.1v3.1h-3.1zM423.6 349.3h3.1v3.1h-3.1zM333.3 214.9h3.1v3.1h-3.1zM420.2 425.6h3.1v3.1h-3.1zM371.6 44.1h3.1v3.1h-3.1zM239.2 204.2h3.1v3.1h-3.1zM346.6 194.0h3.1v3.1h-3.1zM233.8 128.4h3.1v3.1h-3.1zM320.3 23.8h3.1v3.1h-3.1zM230.9 240.7h3.1v3.1h-3.1zM264.5 160.6h3.1v3.1h-3.1zM274.6 310.6h3.1v3.1h-3.1zM259.9 254.9h3.1v3.1h-3.1zM337.4 237.8h3.1v3.1h-3.1zM312.9 178.6h3.1v3.1h-3.1zM395.3 276.0h3.1v3.1h-3.1zM405.1 269.4h3.1v3.1h-3.1zM272.6 12.2h3.1v3.1h-3.1zM421.1 280.6h3.1v3.1h-3.1zM234.6 85.0h3.1v3.1h-3.1zM233.4 26.3h3.1v3.1h-3.1zM351.9 293.2h3.1v3.1h-3.1zM290.4 146.2h3.1v3.1h-3.1zM360.8 160.1h3.1v3.1h-3.1zM296.9 357.3h3.1v3.1h-3.1zM419.8 372.3h3.1v3.1h-3.1zM377.0 13.1h3.1v3.1h-3.1zM422.6 347.0h3.1v3.1h-3.1zM288.4 222.8h3.1v3.1h-3.1zM304.8 241.9h3.1v3.1h-3.1zM356.0 141.3h3.1v3.1h-3.1zM365.6 405.6h3.1v3.1h-3.1zM395.3 390.3h3.1v3.1h-3.1zM266.1 81.0h3.1v3.1h-3.1zM354.0 336.3h3.1v3.1h-3.1zM328.8 266.4h3.1v3.1h-3.1zM302.5 339.0h3.1v3.1h-3.1zM296.2 375.9h3.1v3.1h-3.1zM330.1 27.0h3.1v3.1h-3.1zM333.0 294.6h3.1v3.1h-3.1zM408.4 328.3h3.1v3.1h-3.1zM390.8 299.7h3.1v3.1h-3.1zM427.6 11.7h3.1v3.1h-3.1zM297.4 261.5h3.1v3.1h-3.1zM389.7 216.9h3.1v3.1h-3.1zM341.5 170.7h3.1v3.1h-3.1zM396.3 184.3h3.1v3.1h-3.1zM420.8 270.8h3.1v3.1h-3.1zM345.8 20.2h3.1v3.1h-3.1zM261.2 298.9h3.1v3.1h-3.1zM240.3 343.2h3.1v3.1h-3.1zM275.6 10.0h3.1v3.1h-3.1zM281.7 2.5h3.1v3.1h-3.1zM423.9 132.6h3.1v3.1h-3.1zM232.2 160.9h3.1v3.1h-3.1zM316.9 76.7h3.1v3.1h-3.1zM265.5 72.3h3.1v3.1h-3.1zM249.3 298.4h3.1v3.1h-3.1zM269.1 240.3h3.1v3.1h-3.1zM414.7 384.1h3.1v3.1h-3.1zM397.7 196.0h3.1v3.1h-3.1zM380.5 108.2h3.1v3.1h-3.1zM401.3 160.0h3.1v3.1h-3.1zM285.0 195.9h3.1v3.1h-3.1zM350.4 438.9h3.1v3.1h-3.1zM398.5 371.9h3.1v3.1h-3.1zM289.1 131.0h3.1v3.1h-3.1zM311.6 285.4h3.1v3.1h-3.1zM237.3 201.3h3.1v3.1h-3.1zM339.1 162.3h3.1v3.1h-3.1zM423.7 245.5h3.1v3.1h-3.1zM326.7 164.0h3.1v3.1h-3.1zM428.2 40.7h3.1v3.1h-3.1zM334.8 100.5h3.1v3.1h-3.1zM351.4 288.3h3.1v3.1h-3.1zM413.2 86.5h3.1v3.1h-3.1zM252.1 235.6h3.1v3.1h-3.1zM299.9 188.3h3.1v3.1h-3.1zM346.3 18.1h3.1v3.1h-3.1zM290.1 157.6h3.1v3.1h-3.1zM430.5 234.5h3.1v3.1h-3.1zM252.8 381.4h3.1v3.1h-3.1zM397.5 314.8h3.1v3.1h-3.1zM387.4 197.5h3.1v3.1h-3.1zM437.8 394.3h3.1v3.1h-3.1zM353.8 241.0h3.1v3.1h-3.1zM240.8 312.5h3.1v3.1h-3.1zM243.5 327.9h3.1v3.1h-3.1zM280.1 220.2h3.1v3.1h-3.1zM426.5 287.4h3.1v3.1h-3.1zM400.4 435.5h3.1v3.1h-3.1zM423.5 270.8h3.1v3.1h-3.1zM231.6 317.8h3.1v3.1h-3.1zM424.1 266.2h3.1v3.1h-3.1zM280.2 137.6h3.1v3.1h-3.1zM266.4 392.3h3.1v3.1h-3.1zM339.4 429.7h3.1v3.1h-3.1zM267.8 83.6h3.1v3.1h-3.1zM397.1 99.2h3.1v3.1h-3.1zM263.9 151.9h3.1v3.1h-3.1zM382.2 315.2h3.1v3.1h-3.1zM395.9 279.5h3.1v3.1h-3.1zM385.2 390.2h3.1v3.1h-3.1zM365.1 433.2h3.1v3.1h-3.1zM398.9 396.6h3.1v3.1h-3.1zM385.6 141.3h3.1v3.1h-3.1zM253.3 3.9h3.1v3.1h-3.1zM373.3 381.1h3.1v3.1h-3.1zM293.2 386.9h3.1v3.1h-3.1zM367.5 171.2h3.1v3.1h-3.1zM365.7 183.4h3.1v3.1h-3.1zM367.2 16.5h3.1v3.1h-3.1zM353.7 119.7h3.1v3.1h-3.1zM271.2 37.4h3.1v3.1h-3.1zM282.1 306.1h3.1v3.1h-3.1zM309.4 411.8h3.1v3.1h-3.1zM369.4 53.7h3.1v3.1h-3.1zM362.7 286.9h3.1v3.1h-3.1zM374.9 411.5h3.1v3.1h-3.1zM296.5 4.1h3.1v3.1h-3.1zM315.6 259.2h3.1v3.1h-3.1zM254.7 112.3h3.1v3.1h-3.1zM253.7 158.9h3.1v3.1h-3.1zM357.5 245.8h3.1v3.1h-3.1zM311.1 414.9h3.1v3.1h-3.1zM364.7 267.9h3.1v3.1h-3.1zM272.0 6.0h3.1v3.1h-3.1zM367.9 283.8h3.1v3.1h-3.1zM361.2 197.9h3.1v3.1h-3.1zM331.2 19.8h3.1v3.1h-3.1zM343.5 422.7h3.1v3.1h-3.1zM256.4 169.4h3.1v3.1h-3.1zM276.6 192.3h3.1v3.1h-3.1zM308.3 72.6h3.1v3.1h-3.1zM305.8 385.2h3.1v3.1h-3.1zM303.0 30.5h3.1v3.1h-3.1zM287.4 271.0h3.1v3.1h-3.1zM418.1 107.0h3.1v3.1h-3.1zM365.6 64.7h3.1v3.1h-3.1zM379.5 61.9h3.1v3.1h-3.1zM301.2 435.0h3.1v3.1h-3.1zM398.5 261.1h3.1v3.1h-3.1zM277.5 80.0h3.1v3.1h-3.1zM324.0 192.8h3.1v3.1h-3.1zM244.5 230.3h3.1v3.1h-3.1zM243.9 363.8h3.1v3.1h-3.1zM396.0 180.9h3.1v3.1h-3.1zM308.8 329.0h3.1v3.1h-3.1zM249.3 3.5h3.1v3.1h-3.1zM293.9 434.6h3.1v3.1h-3.1zM234.9 355.0h3.1v3.1h-3.1zM426.4 186.6h3.1v3.1h-3.1zM395.4 374.9h3.1v3.1h-3.1zM290.1 126.5h3.1v3.1h-3.1zM369.2 71.4h3.1v3.1h-3.1zM397.8 387.9h3.1v3.1h-3.1zM424.1 48.3h3.1v3.1h-3.1zM366.8 116.8h3.1v3.1h-3.1zM291.7 108.3h3.1v3.1h-3.1zM439.3 44.6h3.1v3.1h-3.1zM383.8 283.2h3.1v3.1h-3.1zM361.5 380.8h3.1v3.1h-3.1zM301.1 111.5h3.1v3.1h-3.1zM346.6 54.0h3.1v3.1h-3.1zM316.6 301.3h3.1v3.1h-3.1zM353.6 298.1h3.1v3.1h-3.1zM350.7 387.6h3.1v3.1h-3.1zM416.7 122.8h3.1v3.1h-3.1zM278.4 213.2h3.1v3.1h-3.1zM285.9 252.1h3.1v3.1h-3.1zM283.8 219.0h3.1v3.1h-3.1zM248.0 342.1h3.1v3.1h-3.1zM367.3 191.7h3.1v3.1h-3.1zM351.1 92.5h3.1v3.1h-3.1zM430.6 171.9h3.1v3.1h-3.1zM285.5 294.2h3.1v3.1h-3.1zM411.0 14.3h3.1v3.1h-3.1zM268.5 223.2h3.1v3.1h-3.1zM356.8 239.1h3.1v3.1h-3.1zM284.5 168.0h3.1v3.1h-3.1zM357.2 323.0h3.1v3.1h-3.1zM253.3 302.9h3.1v3.1h-3.1zM361.3 282.6h3.1v3.1h-3.1zM328.0 223.6h3.1v3.1h-3.1zM234.7 190.3h3.1v3.1h-3.1zM423.0 352.8h3.1v3.1h-3.1zM266.5 204.2h3.1v3.1h-3.1zM329.1 296.1h3.1v3.1h-3.1zM285.6 247.7h3.1v3.1h-3.1zM279.9 318.6h3.1v3.1h-3.1zM393.9 237.4h3.1v3.1h-3.1zM359.6 402.6h3.1v3.1h-3.1zM367.3 421.8h3.1v3.1h-3.1zM255.5 264.0h3.1v3.1h-3.1zM373.6 186.2h3.1v3.1h-3.1zM407.2 240.4h3.1v3.1h-3.1zM270.1 296.6h3.1v3.1h-3.1zM304.7 284.7h3.1v3.1h-3.1zM306.9 410.7h3.1v3.1h-3.1zM258.3 297.9h3.1v3.1h-3.1zM283.1 113.2h3.1v3.1h-3.1zM325.1 368.2h3.1v3.1h-3.1zM427.5 26.2h3.1v3.1h-3.1zM365.8 210.0h3.1v3.1h-3.1zM250.3 258.4h3.1v3.1h-3.1zM408.9 71.4h3.1v3.1h-3.1zM302.5 41.9h3.1v3.1h-3.1zM376.8 378.7h3.1v3.1h-3.1zM422.8 164.7h3.1v3.1h-3.1zM366.1 164.0h3.1v3.1h-3.1zM318.9 281.3h3.1v3.1h-3.1zM279.8 24.6h3.1v3.1h-3.1zM342.8 144.4h3.1v3.1h-3.1zM322.7 126.6h3.1v3.1h-3.1zM318.5 93.8h3.1v3.1h-3.1zM322.1 375.1h3.1v3.1h-3.1zM330.7 400.4h3.1v3.1h-3.1zM262.1 117.9h3.1v3.1h-3.1zM342.7 158.8h3.1v3.1h-3.1zM306.1 43.5h3.1v3.1h-3.1zM431.3 321.0h3.1v3.1h-3.1zM244.6 268.1h3.1v3.1h-3.1zM317.6 123.7h3.1v3.1h-3.1zM431.7 301.9h3.1v3.1h-3.1zM425.1 300.5h3.1v3.1h-3.1zM409.4 36.4h3.1v3.1h-3.1zM253.8 309.0h3.1v3.1h-3.1zM341.6 423.4h3.1v3.1h-3.1zM430.1 195.9h3.1v3.1h-3.1zM349.0 44.1h3.1v3.1h-3.1zM277.6 66.0h3.1v3.1h-3.1zM366.1 137.4h3.1v3.1h-3.1zM310.0 401.3h3.1v3.1h-3.1zM382.7 2.4h3.1v3.1h-3.1zM264.6 63.5h3.1v3.1h-3.1zM263.3 50.8h3.1v3.1h-3.1zM414.1 323.1h3.1v3.1h-3.1zM348.5 68.9h3.1v3.1h-3.1zM299.2 81.4h3.1v3.1h-3.1zM436.0 124.5h3.1v3.1h-3.1zM239.3 310.5h3.1v3.1h-3.1zM318.6 34.0h3.1v3.1h-3.1zM345.6 429.4h3.1v3.1h-3.1zM299.1 177.3h3.1v3.1h-3.1zM423.2 336.2h3.1v3.1h-3.1zM403.8 401.0h3.1v3.1h-3.1zM266.7 218.2h3.1v3.1h-3.1zM293.7 184.5h3.1v3.1h-3.1zM392.4 421.4h3.1v3.1h-3.1zM317.5 70.0h3.1v3.1h-3.1zM325.6 80.3h3.1v3.1h-3.1zM241.8 183.9h3.1v3.1h-3.1zM425.3 428.7h3.1v3.1h-3.1zM401.3 105.7h3.1v3.1h-3.1zM407.1 227.1h3.1v3.1h-3.1zM344.3 125.5h3.1v3.1h-3.1zM265.2 228.0h3.1v3.1h-3.1zM413.6 262.2h3.1v3.1h-3.1zM284.4 107.4h3.1v3.1h-3.1zM371.3 382.4h3.1v3.1h-3.1zM426.7 99.3h3.1v3.1h-3.1zM242.2 224.6h3.1v3.1h-3.1zM277.8 107.9h3.1v3.1h-3.1zM317.9 372.6h3.1v3.1h-3.1zM331.5 88.1h3.1v3.1h-3.1zM245.3 99.9h3.1v3.1h-3.1zM357.0 109.8h3.1v3.1h-3.1zM248.0 222.9h3.1v3.1h-3.1zM338.5 430.7h3.1v3.1h-3.1zM404.1 349.2h3.1v3.1h-3.1zM394.1 190.8h3.1v3.1h-3.1zM278.9 431.0h3.1v3.1h-3.1zM421.2 344.2h3.1v3.1h-3.1zM255.0 110.9h3.1v3.1h-3.1zM327.2 247.3h3.1v3.1h-3.1zM285.6 303.2h3.1v3.1h-3.1zM261.5 127.2h3.1v3.1h-3.1zM372.8 20.6h3.1v3.1h-3.1zM310.1 250.7h3.1v3.1h-3.1zM433.6 77.3h3.1v3.1h-3.1zM421.3 260.7h3.1v3.1h-3.1zM363.2 308.2h3.1v3.1h-3.1zM435.9 234.1h3.1v3.1h-3.1zM361.8 235.5h3.1v3.1h-3.1zM393.1 215.9h3.1v3.1h-3.1zM248.9 30.6h3.1v3.1h-3.1zM376.6 414.7h3.1v3.1h-3.1zM397.9 410.4h3.1v3.1h-3.1zM399.1 135.1h3.1v3.1h-3.1zM330.2 92.9h3.1v3.1h-3.1zM349.2 342.9h3.1v3.1h-3.1zM333.8 6.2h3.1v3.1h-3.1zM317.5 37.3h3.1v3.1h-3.1zM387.0 244.2h3.1v3.1h-3.1zM280.1 206.2h3.1v3.1h-3.1zM331.9 140.9h3.1v3.1h-3.1zM337.9 193.4h3.1v3.1h-3.1zM283.4 59.5h3.1v3.1h-3.1zM360.3 333.3h3.1v3.1h-3.1zM373.3 55.2h3.1v3.1h-3.1zM301.1 277.3h3.1v3.1h-3.1zM266.2 289.1h3.1v3.1h-3.1zM335.3 79.5h3.1v3.1h-3.1zM359.2 132.3h3.1v3.1h-3.1zM295.9 130.9h3.1v3.1h-3.1zM291.2 35.4h3.1v3.1h-3.1zM324.7 16.7h3.1v3.1h-3.1zM257.0 138.3h3.1v3.1h-3.1zM254.2 228.9h3.1v3.1h-3.1zM412.8 354.8h3.1v3.1h-3.1zM386.2 394.1h3.1v3.1h-3.1zM357.3 361.6h3.1v3.1h-3.1zM390.4 196.3h3.1v3.1h-3.1zM401.6 328.3h3.1v3.1h-3.1zM410.8 423.4h3.1v3.1h-3.1zM393.2 51.0h3.1v3.1h-3.1zM258.6 75.2h3.1v3.1h-3.1zM350.1 276.9h3.1v3.1h-3.1zM357.7 46.5h3.1v3.1h-3.1zM299.5 184.8h3.1v3.1h-3.1zM332.9 167.0h3.1v3.1h-3.1zM419.9 93.9h3.1v3.1h-3.1zM302.4 285.5h3.1v3.1h-3.1zM369.8 334.0h3.1v3.1h-3.1zM267.4 145.2h3.1v3.1h-3.1zM367.1 188.9h3.1v3.1h-3.1zM237.8 27.1h3.1v3.1h-3.1zM327.3 241.5h3.1v3.1h-3.1zM354.8 249.9h3.1v3.1h-3.1zM342.8 216.0h3.1v3.1h-3.1zM431.8 94.8h3.1v3.1h-3.1zM366.4 276.1h3.1v3.1h-3.1zM329.5 290.9h3.1v3.1h-3.1zM321.9 309.6h3.1v3.1h-3.1zM413.1 218.1h3.1v3.1h-3.1zM352.6 284.5h3.1v3.1h-3.1zM306.1 188.7h3.1v3.1h-3.1zM421.2 40.9h3.1v3.1h-3.1zM230.1 370.9h3.1v3.1h-3.1zM420.6 40.9h3.1v3.1h-3.1zM289.1 372.8h3.1v3.1h-3.1zM342.4 153.8h3.1v3.1h-3.1zM431.6 13.0h3.1v3.1h-3.1zM393.0 349.5h3.1v3.1h-3.1zM335.7 418.6h3.1v3.1h-3.1zM413.8 427.6h3.1v3.1h-3.1zM376.2 68.6h3.1v3.1h-3.1zM339.9 248.0h3.1v3.1h-3.1zM424.9 242.5h3.1v3.1h-3.1zM417.8 294.5h3.1v3.1h-3.1zM276.4 155.0h3.1v3.1h-3.1zM246.3 99.3h3.1v3.1h-3.1zM253.1 345.8h3.1v3.1h-3.1zM241.4 302.4h3.1v3.1h-3.1zM359.5 148.7h3.1v3.1h-3.1zM267.9 150.8h3.1v3.1h-3.1zM322.7 337.3h3.1v3.1h-3.1zM268.3 360.0h3.1v3.1h-3.1zM427.9 88.7h3.1v3.1h-3.1zM308.8 207.4h3.1v3.1h-3.1zM248.1 370.4h3.1v3.1h-3.1zM238.3 215.7h3.1v3.1h-3.1zM247.8 45.0h3.1v3.1h-3.1zM433.4 411.0h3.1v3.1h-3.1zM242.5 131.8h3.1v3.1h-3.1zM301.4 234.0h3.1v3.1h-3.1zM249.1 375.1h3.1v3.1h-3.1zM298.4 409.2h3.1v3.1h-3.1zM276.2 202.5h3.1v3.1h-3.1zM419.7 34.1h3.1v3.1h-3.1zM352.9 141.0h3.1v3.1h-3.1zM247.5 183.4h3.1v3.1h-3.1zM399.9 15.8h3.1v3.1h-3.1zM291.4 401.6h3.1v3.1h-3.1zM399.2 176.0h3.1v3.1h-3.1zM245.3 376.9h3.1v3.1h-3.1zM316.7 181.8h3.1v3.1h-3.1zM314.2 263.5h3.1v3.1h-3.1zM321.3 220.4h3.1v3.1h-3.1zM392.5 135.9h3.1v3.1h-3.1zM286.1 129.2h3.1v3.1h-3.1zM424.2 237.4h3.1v3.1h-3.1zM306.9 201.2h3.1v3.1h-3.1zM238.6 256.3h3.1v3.1h-3.1zM397.0 41.7h3.1v3.1h-3.1zM360.4 4.3h3.1v3.1h-3.1zM389.0 70.0h3.1v3.1h-3.1zM279.1 353.9h3.1v3.1h-3.1zM354.6 323.2h3.1v3.1h-3.1zM235.0 4.3h3.1v3.1h-3.1zM342.1 72.4h3.1v3.1h-3.1zM317.4 177.4h3.1v3.1h-3.1zM405.0 287.9h3.1v3.1h-3.1zM249.5 170.5h3.1v3.1h-3.1zM285.9 172.4h3.1v3.1h-3.1zM433.4 307.2h3.1v3.1h-3.1zM395.2 63.2h3.1v3.1h-3.1zM292.5 421.7h3.1v3.1h-3.1zM418.3 368.1h3.1v3.1h-3.1zM337.8 435.0h3.1v3.1h-3.1zM423.4 366.7h3.1v3.1h-3.1zM403.4 236.8h3.1v3.1h-3.1zM346.9 391.0h3.1v3.1h-3.1zM355.4 59.2h3.1v3.1h-3.1zM230.5 256.0h3.1v3.1h-3.1zM418.4 119.5h3.1v3.1h-3.1zM418.2 334.6h3.1v3.1h-3.1zM252.7 279.2h3.1v3.1h-3.1zM401.9 190.4h3.1v3.1h-3.1zM298.3 393.5h3.1v3.1h-3.1zM308.9 305.1h3.1v3.1h-3.1zM392.9 422.7h3.1v3.1h-3.1zM315.4 203.7h3.1v3.1h-3.1zM425.3 259.4h3.1v3.1h-3.1zM376.8 34.8h3.1v3.1h-3.1zM322.3 110.2h3.1v3.1h-3.1zM265.0 255.5h3.1v3.1h-3.1zM309.5 204.0h3.1v3.1h-3.1zM399.2 56.1h3.1v3.1h-3.1zM345.6 221.1h3.1v3.1h-3.1zM267.4 169.8h3.1v3.1h-3.1zM337.7 231.4h3.1v3.1h-3.1zM257.1 137.7h3.1v3.1h-3.1zM233.0 324.0h3.1v3.1h-3.1zM409.9 233.7h3.1v3.1h-3.1zM378.3 87.9h3.1v3.1h-3.1zM421.7 212.7h3.1v3.1h-3.1zM377.4 289.2h3.1v3.1h-3.1zM291.1 287.7h3.1v3.1h-3.1zM256.3 410.3h3.1v3.1h-3.1zM438.0 418.7h3.1v3.1h-3.1zM428.2 290.0h3.1v3.1h-3.1zM250.0 53.0h3.1v3.1h-3.1zM246.1 384.8h3.1v3.1h-3.1zM344.6 196.1h3.1v3.1h-3.1zM287.7 398.9h3.1v3.1h-3.1zM351.5 57.2h3.1v3.1h-3.1zM303.1 399.9h3.1v3.1h-3.1zM390.0 420.6h3.1v3.1h-3.1zM356.1 308.5h3.1v3.1h-3.1zM385.5 60.8h3.1v3.1h-3.1zM283.3 418.5h3.1v3.1h-3.1zM265.7 327.7h3.1v3.1h-3.1zM253.4 17.4h3.1v3.1h-3.1zM377.0 181.0h3.1v3.1h-3.1zM367.3 147.7h3.1v3.1h-3.1zM372.6 388.4h3.1v3.1h-3.1zM426.2 327.6h3.1v3.1h-3.1zM241.4 173.6h3.1v3.1h-3.1zM337.0 330.9h3.1v3.1h-3.1zM239.0 257.8h3.1v3.1h-3.1zM374.0 376.2h3.1v3.1h-3.1zM271.1 140.2h3.1v3.1h-3.1zM320.8 26.9h3.1v3.1h-3.1zM436.9 335.2h3.1v3.1h-3.1zM308.9 315.1h3.1v3.1h-3.1zM314.5 415.1h3.1v3.1h-3.1zM260.6 195.1h3.1v3.1h-3.1zM402.4 315.3h3.1v3.1h-3.1zM262.0 434.3h3.1v3.1h-3.1zM422.9 367.7h3.1v3.1h-3.1zM257.9 426.1h3.1v3.1h-3.1zM402.1 260.4h3.1v3.1h-3.1zM257.3 354.4h3.1v3.1h-3.1zM370.4 311.0h3.1v3.1h-3.1zM265.6 135.6h3.1v3.1h-3.1zM265.9 37.5h3.1v3.1h-3.1zM363.9 154.1h3.1v3.1h-3.1zM437.7 373.9h3.1v3.1h-3.1zM345.0 24.1h3.1v3.1h-3.1zM327.5 213.9h3.1v3.1h-3.1zM244.5 405.5h3.1v3.1h-3.1zM402.6 203.6h3.1v3.1h-3.1zM392.9 265.0h3.1v3.1h-3.1zM356.0 75.6h3.1v3.1h-3.1zM405.6 161.6h3.1v3.1h-3.1zM242.2 284.2h3.1v3.1h-3.1zM297.3 216.8h3.1v3.1h-3.1zM331.3 87.9h3.1v3.1h-3.1zM236.3 264.4h3.1v3.1h-3.1zM273.2 396.2h3.1v3.1h-3.1zM362.8 312.1h3.1v3.1h-3.1zM345.9 403.8h3.1v3.1h-3.1zM241.8 251.2h3.1v3.1h-3.1zM295.7 29.4h3.1v3.1h-3.1zM413.7 253.8h3.1v3.1h-3.1zM386.0 327.6h3.1v3.1h-3.1zM248.3 224.8h3.1v3.1h-3.1zM304.3 21.1h3.1v3.1h-3.1zM360.2 301.2h3.1v3.1h-3.1zM350.6 133.1h3.1v3.1h-3.1zM297.5 230.8h3.1v3.1h-3.1zM316.9 303.1h3.1v3.1h-3.1zM300.5 376.2h3.1v3.1h-3.1zM358.0 307.3h3.1v3.1h-3.1zM304.5 180.2h3.1v3.1h-3.1zM417.6 418.9h3.1v3.1h-3.1zM392.7 353.5h3.1v3.1h-3.1zM439.1 59.5h3.1v3.1h-3.1zM294.5 166.7h3.1v3.1h-3.1zM302.1 109.8h3.1v3.1h-3.1zM249.4 365.7h3.1v3.1h-3.1zM341.8 271.9h3.1v3.1h-3.1zM403.3 48.6h3.1v3.1h-3.1zM321.5 204.5h3.1v3.1h-3.1zM309.9 138.2h3.1v3.1h-3.1zM432.5 27.1h3.1v3.1h-3.1zM321.9 361.9h3.1v3.1h-3.1zM384.0 11.0h3.1v3.1h-3.1zM249.1 75.9h3.1v3.1h-3.1zM324.8 188.6h3.1v3.1h-3.1zM407.8 429.6h3.1v3.1h-3.1zM347.6 92.9h3.1v3.1h-3.1zM386.3 315.5h3.1v3.1h-3.1zM419.3 158.0h3.1v3.1h-3.1zM355.7 356.7h3.1v3.1h-3.1zM330.8 226.0h3.1v3.1h-3.1zM374.3 99.2h3.1v3.1h-3.1zM381.3 257.7h3.1v3.1h-3.1zM403.1 58.6h3.1v3.1h-3.1zM407.3 338.8h3.1v3.1h-3.1zM383.8 377.3h3.1v3.1h-3.1zM333.5 198.0h3.1v3.1h-3.1zM285.7 286.2h3.1v3.1h-3.1zM229.9 206.2h3.1v3.1h-3.1zM439.9 145.1h3.1v3.1h-3.1zM266.2 183.0h3.1v3.1h-3.1zM380.8 370.2h3.1v3.1h-3.1zM255.6 227.3h3.1v3.1h-3.1zM405.1 380.1h3.1v3.1h-3.1zM374.2 129.8h3.1v3.1h-3.1zM247.1 174.7h3.1v3.1h-3.1zM272.2 404.4h3.1v3.1h-3.1zM250.2 41.0h3.1v3.1h-3.1zM438.3 341.9h3.1v3.1h-3.1zM331.9 208.4h3.1v3.1h-3.1zM420.2 310.9h3.1v3.1h-3.1zM299.5 172.1h3.1v3.1h-3.1zM439.2 120.3h3.1v3.1h-3.1zM246.8 8.9h3.1v3.1h-3.1zM407.9 71.2h3.1v3.1h-3.1zM351.6 182.7h3.1v3.1h-3.1zM344.6 387.7h3.1v3.1h-3.1zM293.7 83.8h3.1v3.1h-3.1zM319.8 204.4h3.1v3.1h-3.1zM304.0 273.0h3.1v3.1h-3.1zM337.6 108.0h3.1v3.1h-3.1zM255.5 142.5h3.1v3.1h-3.1zM408.5 355.5h3.1v3.1h-3.1zM271.8 130.7h3.1v3.1h-3.1zM335.2 218.9h3.1v3.1h-3.1zM251.6 95.9h3.1v3.1h-3.1zM333.0 361.0h3.1v3.1h-3.1zM408.5 95.9h3.1v3.1h-3.1zM265.0 300.7h3.1v3.1h-3.1zM229.5 403.7h3.1v3.1h-3.1zM412.1 381.5h3.1v3.1h-3.1zM238.8 417.2h3.1v3.1h-3.1zM279.4 375.5h3.1v3.1h-3.1zM276.6 158.7h3.1v3.1h-3.1zM292.0 56.0h3.1v3.1h-3.1zM250.0 325.6h3.1v3.1h-3.1zM321.9 55.8h3.1v3.1h-3.1zM350.6 362.7h3.1v3.1h-3.1zM285.0 240.0h3.1v3.1h-3.1zM308.3 106.8h3.1v3.1h-3.1zM323.7 63.3h3.1v3.1h-3.1zM331.5 430.6h3.1v3.1h-3.1zM255.3 374.2h3.1v3.1h-3.1zM276.1 434.9h3.1v3.1h-3.1zM336.5 152.0h3.1v3.1h-3.1zM410.6 233.2h3.1v3.1h-3.1zM239.9 278.1h3.1v3.1h-3.1zM326.6 317.1h3.1v3.1h-3.1zM436.1 104.7h3.1v3.1h-3.1zM242.2 198.9h3.1v3.1h-3.1zM347.4 438.1h3.1v3.1h-3.1zM280.1 207.7h3.1v3.1h-3.1zM302.1 373.0h3.1v3.1h-3.1zM404.5 183.7h3.1v3.1h-3.1zM430.9 7.3h3.1v3.1h-3.1zM288.8 11.6h3.1v3.1h-3.1zM282.9 398.7h3.1v3.1h-3.1zM439.9 263.2h3.1v3.1h-3.1zM352.5 199.2h3.1v3.1h-3.1zM313.4 230.0h3.1v3.1h-3.1zM362.5 71.1h3.1v3.1h-3.1zM416.5 292.0h3.1v3.1h-3.1zM416.1 83.2h3.1v3.1h-3.1zM333.0 321.4h3.1v3.1h-3.1zM404.4 140.2h3.1v3.1h-3.1zM271.5 196.4h3.1v3.1h-3.1zM325.8 193.8h3.1v3.1h-3.1zM257.6 121.2h3.1v3.1h-3.1zM391.2 425.1h3.1v3.1h-3.1zM290.8 85.5h3.1v3.1h-3.1zM391.3 388.8h3.1v3.1h-3.1zM292.8 243.2h3.1v3.1h-3.1zM437.4 390.9h3.1v3.1h-3.1zM349.3 273.1h3.1v3.1h-3.1zM346.1 235.9h3.1v3.1h-3.1zM306.3 436.7h3.1v3.1h-3.1zM388.5 211.7h3.1v3.1h-3.1zM273.0 38.4h3.1v3.1h-3.1zM308.8 222.6h3.1v3.1h-3.1zM396.9 416.7h3.1v3.1h-3.1zM254.8 273.9h3.1v3.1h-3.1zM402.7 299.4h3.1v3.1h-3.1zM381.1 61.3h3.1v3.1h-3.1zM336.3 288.1h3.1v3.1h-3.1zM222 31h3.1v3.1h-3.1zM219 66h3.1v3.1h-3.1zM218 111h3.1v3.1h-3.1zM220 75h3.1v3.1h-3.1zM231 365h3.1v3.1h-3.1z" fill="#fff"/>
<use href="#p" x="28.1" y="-6.0" fill="#345da9" stroke="#345da9"/>
<use href="#p" x="51.1" y="-1.3" fill="#fff" stroke="#fff"/>
<use href="#p" x="86.8" y="-1.0" fill="#fff" stroke="#fff"/>
<use href="#p" x="31.9" y="9.0" fill="#fff" stroke="#fff"/>
<use href="#p" x="61.9" y="9.0" fill="#fff" stroke="#fff"/>
<use href="#p" x="90.2" y="6.5" fill="#fff" stroke="#fff"/>
<use href="#p" x="99.3" y="6.0" fill="#fff" stroke="#fff"/>
<use href="#p" x="105.1" y="6.0" fill="#fff" stroke="#fff"/>
<use href="#p" x="114.1" y="9.8" fill="#345da9" stroke="#345da9"/>
<use href="#p" x="130.8" y="12.0" fill="#fff" stroke="#fff"/>
<use href="#p" x="170.7" y="2.0" fill="#fff" stroke="#fff"/>
<use href="#p" x="180.7" y="2.0" fill="#fff" stroke="#fff"/>
<use href="#p" x="204.5" y="7.0" fill="#345da9" stroke="#345da9"/>
<use href="#p" x="207.5" y="2.7" fill="#fff" stroke="#fff"/>
<use href="#p" x="80.9" y="14.0" fill="#fff" stroke="#fff"/>
<use href="#p" x="101.8" y="16.0" fill="#fff" stroke="#fff"/>
<use href="#p" x="88.0" y="19.3" fill="#fff" stroke="#fff"/>
<use href="#p" x="91.0" y="24.8" fill="#fff" stroke="#fff"/>
<use href="#p" x="43.1" y="19.8" fill="#fff" stroke="#fff"/>
<use href="#p" x="30.9" y="21.0" fill="#fff" stroke="#fff"/>
<use href="#p" x="24.0" y="25.6" fill="#fff" stroke="#fff"/>
<use href="#p" x="9.8" y="33.1" fill="#fff" stroke="#fff"/>
<use href="#p" x="17.8" y="35.6" fill="#fff" stroke="#fff"/>
<use href="#p" x="58.1" y="33.9" fill="#fff" stroke="#fff"/>
<use href="#p" x="68.9" y="43.9" fill="#fff" stroke="#fff"/>
<use href="#p" x="119.1" y="40.3" fill="#fff" stroke="#fff"/>
<use href="#p" x="118.0" y="44.7" fill="#fff" stroke="#fff"/>
<use href="#p" x="144.9" y="42.3" fill="#fff" stroke="#fff"/>
<use href="#p" x="157.9" y="43.1" fill="#fff" stroke="#fff"/>
<use href="#p" x="198.7" y="33.9" fill="#fff" stroke="#fff"/>
<use href="#p" x="202.0" y="31.4" fill="#fff" stroke="#fff"/>
<use href="#p" x="3.2" y="56.9" fill="#fff" stroke="#fff"/>
<use href="#p" x="7.0" y="54.7" fill="#345da9" stroke="#345da9"/>
<use href="#p" x="28.9" y="53.1" fill="#fff" stroke="#fff"/>
<use href="#p" x="37.8" y="55.9" fill="#fff" stroke="#fff"/>
<use href="#p" x="14.8" y="65.5" fill="#fff" stroke="#fff"/>
<use href="#p" x="41.1" y="66.4" fill="#fff" stroke="#fff"/>
<use href="#p" x="183.7" y="64.7" fill="#fff" stroke="#fff"/>
<use href="#p" x="53.9" y="73.8" fill="#345da9" stroke="#345da9"/>
<use href="#p" x="81.0" y="76.7" fill="#345da9" stroke="#345da9"/>
<use href="#p" x="108.8" y="78.0" fill="#fff" stroke="#fff"/>
<use href="#p" x="153.2" y="77.2" fill="#fff" stroke="#fff"/>
<use href="#p" x="193.7" y="75.0" fill="#fff" stroke="#fff"/>
<use href="#p" x="187.0" y="77.2" fill="#345da9" stroke="#345da9"/>
<use href="#p" x="80.0" y="86.3" fill="#fff" stroke="#fff"/>
<use href="#p" x="78.9" y="91.3" fill="#fff" stroke="#fff"/>
<use href="#p" x="108.0" y="89.6" fill="#345da9" stroke="#345da9"/>
<use href="#p" x="49.7" y="90.5" fill="#fff" stroke="#fff"/>
<use href="#p" x="42.8" y="92.1" fill="#345da9" stroke="#345da9"/>
<use href="#p" x="59.2" y="91.3" fill="#fff" stroke="#fff"/>
<use href="#p" x="11.8" y="96.0" fill="#fff" stroke="#fff"/>
<use href="#p" x="163.7" y="95.5" fill="#345da9" stroke="#345da9"/>
<use href="#p" x="164.5" y="93.0" fill="#fff" stroke="#fff"/>
<use href="#p" x="204.0" y="92.1" fill="#fff" stroke="#fff"/>
<use href="#p" x="30.9" y="102.1" fill="#fff" stroke="#fff"/>
<use href="#p" x="20.1" y="110.9" fill="#345da9" stroke="#345da9"/>
<use href="#p" x="73.9" y="107.1" fill="#fff" stroke="#fff"/>
<use href="#p" x="170.7" y="106.3" fill="#fff" stroke="#fff"/>
<use href="#p" x="195.8" y="107.9" fill="#345da9" stroke="#345da9"/>
<use href="#p" x="41.1" y="110.4" fill="#fff" stroke="#fff"/>
<use href="#p" x="45.2" y="109.6" fill="#fff" stroke="#fff"/>
<use href="#p" x="37.6" y="114.6" fill="#fff" stroke="#fff"/>
<use href="#p" x="49.7" y="117.1" fill="#fff" stroke="#fff"/>
<use href="#p" x="60.9" y="118.7" fill="#fff" stroke="#fff"/>
<use href="#p" x="125.9" y="114.9" fill="#fff" stroke="#fff"/>
<use href="#p" x="38.1" y="124.6" fill="#fff" stroke="#fff"/>
<use href="#p" x="177.9" y="123.7" fill="#fff" stroke="#fff"/>
<use href="#p" x="137.1" y="132.1" fill="#fff" stroke="#fff"/>
<use href="#p" x="187.8" y="132.9" fill="#fff" stroke="#fff"/>
<use href="#p" x="83.0" y="134.6" fill="#fff" stroke="#fff"/>
<use href="#p" x="28.9" y="134.6" fill="#fff" stroke="#fff"/>
<use href="#p" x="31.4" y="138.7" fill="#fff" stroke="#fff"/>
<use href="#p" x="24.0" y="139.5" fill="#fff" stroke="#fff"/>
<use href="#p" x="50.6" y="139.5" fill="#fff" stroke="#fff"/>
<use href="#p" x="53.9" y="137.9" fill="#345da9" stroke="#345da9"/>
<use href="#p" x="72.7" y="139.5" fill="#fff" stroke="#fff"/>
<use href="#p" x="163.7" y="139.5" fill="#fff" stroke="#fff"/>
<use href="#p" x="207.8" y="136.2" fill="#345da9" stroke="#345da9"/>
<use href="#p" x="38.1" y="146.2" fill="#fff" stroke="#fff"/>
<use href="#p" x="95.0" y="146.2" fill="#fff" stroke="#fff"/>
<use href="#p" x="123.0" y="155.3" fill="#fff" stroke="#fff"/>
<use href="#p" x="127.1" y="155.3" fill="#fff" stroke="#fff"/>
<use href="#p" x="137.1" y="154.5" fill="#fff" stroke="#fff"/>
<use href="#p" x="154.9" y="156.6" fill="#345da9" stroke="#345da9"/>
<use href="#p" x="162.1" y="160.6" fill="#fff" stroke="#fff"/>
<use href="#p" x="205.6" y="164.5" fill="#fff" stroke="#fff"/>
<use href="#p" x="208.6" y="160.3" fill="#345da9" stroke="#345da9"/>
<use href="#p" x="-0.2" y="167.8" fill="#fff" stroke="#fff"/>
<use href="#p" x="17.0" y="167.8" fill="#fff" stroke="#fff"/>
<use href="#p" x="31.9" y="168.6" fill="#345da9" stroke="#345da9"/>
<use href="#p" x="48.1" y="171.1" fill="#fff" stroke="#fff"/>
<use href="#p" x="50.6" y="167.0" fill="#345da9" stroke="#345da9"/>
<use href="#p" x="84.7" y="169.5" fill="#fff" stroke="#fff"/>
<use href="#p" x="97.5" y="162.8" fill="#fff" stroke="#fff"/>
<use href="#p" x="98.8" y="165.3" fill="#345da9" stroke="#345da9"/>
<use href="#p" x="118.0" y="167.8" fill="#fff" stroke="#fff"/>
<use href="#p" x="73.9" y="172.8" fill="#345da9" stroke="#345da9"/>
<use href="#p" x="145.7" y="173.6" fill="#fff" stroke="#fff"/>
<use href="#p" x="159.9" y="174.4" fill="#fff" stroke="#fff"/>
<use href="#p" x="151.7" y="175.3" fill="#345da9" stroke="#345da9"/>
<use href="#p" x="180.9" y="174.4" fill="#345da9" stroke="#345da9"/>
<use href="#p" x="170.7" y="179.4" fill="#fff" stroke="#fff"/>
<use href="#p" x="56.9" y="181.9" fill="#fff" stroke="#fff"/>
<use href="#p" x="96.8" y="184.9" fill="#345da9" stroke="#345da9"/>
<use href="#p" x="197.0" y="185.6" fill="#345da9" stroke="#345da9"/>
<use href="#p" x="152.1" y="182.8" fill="#fff" stroke="#fff"/>
<use href="#p" x="151.2" y="191.1" fill="#fff" stroke="#fff"/>
<use href="#p" x="40.1" y="187.8" fill="#fff" stroke="#fff"/>
<use href="#p" x="165.9" y="191.6" fill="#fff" stroke="#fff"/>
<use href="#p" x="128.8" y="194.4" fill="#fff" stroke="#fff"/>
<use href="#p" x="180.9" y="195.6" fill="#345da9" stroke="#345da9"/>
<use href="#p" x="-0.2" y="203.6" fill="#fff" stroke="#fff"/>
<use href="#p" x="9.0" y="200.6" fill="#fff" stroke="#fff"/>
<use href="#p" x="19.8" y="203.6" fill="#fff" stroke="#fff"/>
<use href="#p" x="24.0" y="212.7" fill="#fff" stroke="#fff"/>
<use href="#p" x="65.0" y="211.1" fill="#fff" stroke="#fff"/>
<use href="#p" x="84.7" y="207.7" fill="#fff" stroke="#fff"/>
<use href="#p" x="113.0" y="207.7" fill="#fff" stroke="#fff"/>
<use href="#p" x="190.3" y="210.2" fill="#fff" stroke="#fff"/>
<use href="#p" x="202.0" y="206.1" fill="#fff" stroke="#fff"/>
<use href="#p" x="208.6" y="208.6" fill="#345da9" stroke="#345da9"/>
<use href="#p" x="12.0" y="219.3" fill="#fff" stroke="#fff"/>
<use href="#p" x="75.5" y="222.7" fill="#fff" stroke="#fff"/>
<use href="#p" x="118.5" y="221.0" fill="#fff" stroke="#fff"/>
<use href="#p" x="147.9" y="226.8" fill="#345da9" stroke="#345da9"/>
<use href="#p" x="176.2" y="231.0" fill="#fff" stroke="#fff"/>
<use href="#p" x="54.7" y="230.1" fill="#fff" stroke="#fff"/>
<use href="#p" x="58.9" y="232.6" fill="#fff" stroke="#fff"/>
<use href="#p" x="53.9" y="234.3" fill="#fff" stroke="#fff"/>
<use href="#p" x="31.9" y="248.9" fill="#fff" stroke="#fff"/>
<use href="#p" x="97.2" y="252.6" fill="#345da9" stroke="#345da9"/>
<use href="#p" x="145.7" y="250.9" fill="#fff" stroke="#fff"/>
<use href="#p" x="173.7" y="248.9" fill="#fff" stroke="#fff"/>
<use href="#p" x="65.9" y="260.1" fill="#fff" stroke="#fff"/>
<use href="#p" x="116.8" y="260.6" fill="#345da9" stroke="#345da9"/>
<use href="#p" x="168.7" y="262.6" fill="#345da9" stroke="#345da9"/>
<use href="#p" x="19.8" y="266.7" fill="#fff" stroke="#fff"/>
<use href="#p" x="78.9" y="270.6" fill="#345da9" stroke="#345da9"/>
<use href="#p" x="106.8" y="265.9" fill="#fff" stroke="#fff"/>
<use href="#p" x="111.8" y="272.6" fill="#fff" stroke="#fff"/>
<use href="#p" x="130.8" y="267.9" fill="#fff" stroke="#fff"/>
<use href="#p" x="146.7" y="269.2" fill="#fff" stroke="#fff"/>
<use href="#p" x="151.7" y="266.7" fill="#fff" stroke="#fff"/>
<use href="#p" x="179.0" y="272.6" fill="#345da9" stroke="#345da9"/>
<use href="#p" x="208.6" y="265.9" fill="#345da9" stroke="#345da9"/>
<use href="#p" x="208.1" y="258.4" fill="#345da9" stroke="#345da9"/>
<use href="#p" x="204.0" y="275.9" fill="#fff" stroke="#fff"/>
<use href="#p" x="41.4" y="277.6" fill="#fff" stroke="#fff"/>
<use href="#p" x="68.9" y="281.7" fill="#fff" stroke="#fff"/>
<use href="#p" x="111.0" y="283.4" fill="#fff" stroke="#fff"/>
<use href="#p" x="30.9" y="284.2" fill="#fff" stroke="#fff"/>
<use href="#p" x="195.0" y="280.9" fill="#fff" stroke="#fff"/>
<use href="#p" x="190.0" y="280.9" fill="#345da9" stroke="#345da9"/>
<use href="#p" x="185.0" y="287.5" fill="#eded31" stroke="#eded31"/>
<use href="#p" x="11.0" y="297.5" fill="#345da9" stroke="#345da9"/>
<use href="#p" x="52.6" y="293.3" fill="#345da9" stroke="#345da9"/>
<use href="#p" x="66.9" y="300.8" fill="#345da9" stroke="#345da9"/>
<use href="#p" x="95.0" y="295.0" fill="#fff" stroke="#fff"/>
<use href="#p" x="121.8" y="295.8" fill="#fff" stroke="#fff"/>
<use href="#p" x="147.9" y="294.2" fill="#345da9" stroke="#345da9"/>
<use href="#p" x="163.4" y="302.5" fill="#fff" stroke="#fff"/>
<use href="#p" x="159.9" y="296.3" fill="#000" stroke="#000"/>
<use href="#p" x="146.7" y="305.0" fill="#fff" stroke="#fff"/>
<use href="#p" x="84.7" y="306.3" fill="#fff" stroke="#fff"/>
<use href="#p" x="68.9" y="311.6" fill="#fff" stroke="#fff"/>
<use href="#p" x="123.8" y="308.6" fill="#fff" stroke="#fff"/>
<use href="#p" x="127.9" y="312.5" fill="#fff" stroke="#fff"/>
<use href="#p" x="88.8" y="316.6" fill="#fff" stroke="#fff"/>
<use href="#p" x="88.8" y="327.4" fill="#fff" stroke="#fff"/>
<use href="#p" x="40.1" y="324.1" fill="#fff" stroke="#fff"/>
<use href="#p" x="121.8" y="324.6" fill="#fff" stroke="#fff"/>
<use href="#p" x="197.0" y="320.8" fill="#345da9" stroke="#345da9"/>
<use href="#p" x="47.2" y="332.9" fill="#fff" stroke="#fff"/>
<use href="#p" x="58.1" y="331.6" fill="#fff" stroke="#fff"/>
<use href="#p" x="167.9" y="332.9" fill="#345da9" stroke="#345da9"/>
<use href="#p" x="93.8" y="335.8" fill="#345da9" stroke="#345da9"/>
<use href="#p" x="185.7" y="340.2" fill="#d73229" stroke="#d73229"/>
<use href="#p" x="184.2" y="339.9" fill="#345da9" stroke="#345da9"/>
<use href="#p" x="177.9" y="342.9" fill="#345da9" stroke="#345da9"/>
<use href="#p" x="173.7" y="347.9" fill="#345da9" stroke="#345da9"/>
<use href="#p" x="169.0" y="349.1" fill="#345da9" stroke="#345da9"/>
<use href="#p" x="19.0" y="340.7" fill="#fff" stroke="#fff"/>
<use href="#p" x="24.3" y="339.6" fill="#fff" stroke="#fff"/>
<use href="#p" x="11.5" y="344.9" fill="#fff" stroke="#fff"/>
<use href="#p" x="143.8" y="344.1" fill="#fff" stroke="#fff"/>
<use href="#p" x="38.9" y="347.9" fill="#fff" stroke="#fff"/>
<use href="#p" x="19.8" y="352.4" fill="#fff" stroke="#fff"/>
<use href="#p" x="19.8" y="359.1" fill="#fff" stroke="#fff"/>
<use href="#p" x="33.1" y="355.7" fill="#fff" stroke="#fff"/>
<use href="#p" x="11.5" y="359.1" fill="#fff" stroke="#fff"/>
<use href="#p" x="95.8" y="351.6" fill="#345da9" stroke="#345da9"/>
<use href="#p" x="105.1" y="351.9" fill="#345da9" stroke="#345da9"/>
<use href="#p" x="68.9" y="357.4" fill="#fff" stroke="#fff"/>
<use href="#p" x="59.7" y="360.7" fill="#fff" stroke="#fff"/>
<use href="#p" x="77.7" y="356.9" fill="#345da9" stroke="#345da9"/>
<use href="#p" x="162.1" y="351.6" fill="#fff" stroke="#fff"/>
<use href="#p" x="165.0" y="350.7" fill="#fff" stroke="#fff"/>
<use href="#p" x="163.7" y="358.2" fill="#fff" stroke="#fff"/>
<use href="#p" x="139.1" y="358.2" fill="#345da9" stroke="#345da9"/>
<use href="#p" x="43.1" y="370.7" fill="#fff" stroke="#fff"/>
<use href="#p" x="67.2" y="365.7" fill="#fff" stroke="#fff"/>
<use href="#p" x="73.0" y="367.3" fill="#fff" stroke="#fff"/>
<use href="#p" x="202.0" y="367.3" fill="#fff" stroke="#fff"/>
<use href="#p" x="197.0" y="374.8" fill="#345da9" stroke="#345da9"/>
<use href="#p" x="204.0" y="371.5" fill="#345da9" stroke="#345da9"/>
<use href="#p" x="1.8" y="383.1" fill="#fff" stroke="#fff"/>
<use href="#p" x="21.0" y="385.6" fill="#fff" stroke="#fff"/>
<use href="#p" x="44.7" y="384.8" fill="#fff" stroke="#fff"/>
<use href="#p" x="65.5" y="381.5" fill="#fff" stroke="#fff"/>
<use href="#p" x="59.7" y="386.5" fill="#fff" stroke="#fff"/>
<use href="#p" x="68.9" y="384.8" fill="#fff" stroke="#fff"/>
<use href="#p" x="168.7" y="391.5" fill="#345da9" stroke="#345da9"/>
<use href="#p" x="180.9" y="394.8" fill="#345da9" stroke="#345da9"/>
<use href="#p" x="181.7" y="405.6" fill="#345da9" stroke="#345da9"/>
<use href="#p" x="48.9" y="403.9" fill="#fff" stroke="#fff"/>
<use href="#p" x="40.1" y="405.6" fill="#345da9" stroke="#345da9"/>
<use href="#p" x="63.9" y="406.4" fill="#fff" stroke="#fff"/>
<use href="#p" x="100.5" y="409.8" fill="#fff" stroke="#fff"/>
<use href="#p" x="133.8" y="411.4" fill="#fff" stroke="#fff"/>
<use href="#p" x="153.7" y="409.8" fill="#345da9" stroke="#345da9"/>
<use href="#p" x="165.0" y="413.1" fill="#eded31" stroke="#eded31"/>
<use href="#p" x="75.5" y="411.4" fill="#fff" stroke="#fff"/>
<use href="#p" x="79.7" y="414.7" fill="#fff" stroke="#fff"/>
<use href="#p" x="4.8" y="418.9" fill="#fff" stroke="#fff"/>
<use href="#p" x="56.9" y="419.7" fill="#fff" stroke="#fff"/>
<use href="#p" x="94.7" y="417.6" fill="#fff" stroke="#fff"/>
<use href="#p" x="110.0" y="417.6" fill="#fff" stroke="#fff"/>
<use href="#p" x="90.5" y="423.1" fill="#345da9" stroke="#345da9"/>
<use href="#p" x="77.2" y="425.6" fill="#fff" stroke="#fff"/>
<use href="#p" x="78.9" y="432.2" fill="#fff" stroke="#fff"/>
<use href="#p" x="41.1" y="428.9" fill="#fff" stroke="#fff"/>
<use href="#p" x="46.9" y="434.7" fill="#fff" stroke="#fff"/>
<use href="#p" x="98.8" y="432.2" fill="#fff" stroke="#fff"/>
<use href="#p" x="107.1" y="434.7" fill="#fff" stroke="#fff"/>
<use href="#p" x="202.0" y="428.9" fill="#345da9" stroke="#345da9"/>
<use href="#p" x="192.0" y="432.2" fill="#345da9" stroke="#345da9"/>
<use href="#p" x="197.0" y="434.7" fill="#345da9" stroke="#345da9"/>
<use href="#p" x="170.7" y="436.4" fill="#345da9" stroke="#345da9"/>
<use href="#p" x="213.8" y="57.9" fill="#345da9" stroke="#345da9"/>
<use href="#p" x="257.8" y="97.9" fill="#fff" stroke="#fff"/>
<use href="#p" x="225.4" y="115.2" fill="#fff" stroke="#fff"/>
<use href="#p" x="212.2" y="181.4" fill="#fff" stroke="#fff"/>
<use href="#p" x="215.3" y="286.2" fill="#fff" stroke="#fff"/>
<use href="#p" x="227.9" y="286.2" fill="#345da9" stroke="#345da9"/>
<use href="#p" x="213.1" y="353.9" fill="#345da9" stroke="#345da9"/>
<path d="M81.5 203.7l1.7 3h-3.4zM183.3 84.0l1.7 3h-3.4zM101.9 296.0l1.7 3h-3.4zM173.6 305.5l1.7 3h-3.4zM64.8 206.3l1.7 3h-3.4zM114.0 26.6l1.7 3h-3.4zM112.4 3.4l1.7 3h-3.4zM51.5 129.8l1.7 3h-3.4zM89.9 348.4l1.7 3h-3.4zM152.1 139.1l1.7 3h-3.4zM93.5 27.7l1.7 3h-3.4zM16.2 7.8l1.7 3h-3.4zM184.3 436.0l1.7 3h-3.4zM17.5 277.4l1.7 3h-3.4zM23.3 41.3l1.7 3h-3.4zM30.5 311.5l1.7 3h-3.4zM158.4 240.4l1.7 3h-3.4zM157.2 58.0l1.7 3h-3.4zM46.3 192.1l1.7 3h-3.4zM127.7 439.5l1.7 3h-3.4zM131.4 409.5l1.7 3h-3.4zM95.6 4.6l1.7 3h-3.4zM169.0 180.4l1.7 3h-3.4zM129.5 163.9l1.7 3h-3.4zM126.6 221.6l1.7 3h-3.4zM67.9 100.9l1.7 3h-3.4zM113.5 63.4l1.7 3h-3.4zM189.0 266.0l1.7 3h-3.4zM130.6 15.9l1.7 3h-3.4zM91.2 398.5l1.7 3h-3.4zM176.1 437.8l1.7 3h-3.4zM182.7 270.7l1.7 3h-3.4zM170.5 94.3l1.7 3h-3.4zM11.9 124.5l1.7 3h-3.4zM53.2 51.2l1.7 3h-3.4zM148.5 257.6l1.7 3h-3.4zM60.5 14.6l1.7 3h-3.4zM128.9 33.3l1.7 3h-3.4zM46.9 60.3l1.7 3h-3.4zM192.8 324.7l1.7 3h-3.4zM206.2 436.1l1.7 3h-3.4zM183.7 415.9l1.7 3h-3.4zM32.4 7.8l1.7 3h-3.4zM19.0 281.7l1.7 3h-3.4zM16.8 373.1l1.7 3h-3.4zM100.1 238.6l1.7 3h-3.4zM93.6 145.1l1.7 3h-3.4zM107.4 270.8l1.7 3h-3.4zM89.8 6.7l1.7 3h-3.4zM161.8 151.1l1.7 3h-3.4zM38.1 129.5l1.7 3h-3.4zM172.9 402.7l1.7 3h-3.4zM121.8 285.2l1.7 3h-3.4zM191.9 18.3l1.7 3h-3.4zM79.1 396.8l1.7 3h-3.4zM89.8 275.7l1.7 3h-3.4zM61.0 398.9l1.7 3h-3.4zM61.0 267.7l1.7 3h-3.4zM48.9 188.7l1.7 3h-3.4zM98.4 11.3l1.7 3h-3.4zM53.8 48.8l1.7 3h-3.4zM115.5 282.0l1.7 3h-3.4zM20.6 109.0l1.7 3h-3.4zM102.1 314.6l1.7 3h-3.4zM4.2 167.4l1.7 3h-3.4zM35.7 373.9l1.7 3h-3.4zM169.7 181.9l1.7 3h-3.4zM134.6 400.8l1.7 3h-3.4zM85.9 421.7l1.7 3h-3.4zM210.3 43.9l1.7 3h-3.4zM201.9 433.7l1.7 3h-3.4zM209.2 236.7l1.7 3h-3.4zM104.5 435.2l1.7 3h-3.4zM74.5 185.8l1.7 3h-3.4zM27.2 112.6l1.7 3h-3.4zM73.0 347.1l1.7 3h-3.4zM187.5 247.7l1.7 3h-3.4zM188.5 255.1l1.7 3h-3.4zM8.4 203.9l1.7 3h-3.4zM112.8 371.6l1.7 3h-3.4zM167.3 173.5l1.7 3h-3.4zM31.9 240.1l1.7 3h-3.4zM148.8 185.0l1.7 3h-3.4zM207.5 227.4l1.7 3h-3.4zM214.0 272.8l1.7 3h-3.4zM99.3 405.5l1.7 3h-3.4zM62.8 123.8l1.7 3h-3.4zM192.9 210.1l1.7 3h-3.4zM133.9 301.4l1.7 3h-3.4zM9.6 68.8l1.7 3h-3.4zM38.1 361.1l1.7 3h-3.4zM28.0 225.0l1.7 3h-3.4zM176.0 265.8l1.7 3h-3.4zM132.5 237.2l1.7 3h-3.4zM10.8 112.4l1.7 3h-3.4zM51.3 326.3l1.7 3h-3.4zM115.5 149.6l1.7 3h-3.4zM43.2 43.0l1.7 3h-3.4zM23.6 43.6l1.7 3h-3.4zM169.5 55.8l1.7 3h-3.4zM76.4 19.3l1.7 3h-3.4zM78.6 310.5l1.7 3h-3.4zM107.0 327.7l1.7 3h-3.4zM163.5 270.3l1.7 3h-3.4zM50.9 101.5l1.7 3h-3.4zM198.5 42.3l1.7 3h-3.4zM199.5 216.3l1.7 3h-3.4zM77.2 92.8l1.7 3h-3.4zM179.5 2.2l1.7 3h-3.4zM87.9 86.3l1.7 3h-3.4zM36.4 16.4l1.7 3h-3.4zM194.7 413.8l1.7 3h-3.4zM131.3 286.2l1.7 3h-3.4zM159.8 342.7l1.7 3h-3.4zM80.1 440.4l1.7 3h-3.4zM40.5 91.4l1.7 3h-3.4zM212.7 140.8l1.7 3h-3.4zM134.3 102.5l1.7 3h-3.4zM214.0 172.7l1.7 3h-3.4zM111.1 219.3l1.7 3h-3.4zM178.4 183.6l1.7 3h-3.4zM56.4 177.1l1.7 3h-3.4zM86.0 177.6l1.7 3h-3.4zM116.6 183.3l1.7 3h-3.4zM115.7 33.5l1.7 3h-3.4zM163.0 20.2l1.7 3h-3.4zM214.0 210.0l1.7 3h-3.4zM93.1 218.0l1.7 3h-3.4zM96.6 155.5l1.7 3h-3.4zM62.1 315.7l1.7 3h-3.4zM46.0 115.7l1.7 3h-3.4zM13.2 139.1l1.7 3h-3.4zM47.9 351.2l1.7 3h-3.4zM103.3 428.6l1.7 3h-3.4zM214.0 86.0l1.7 3h-3.4zM54.0 311.2l1.7 3h-3.4zM208.7 38.3l1.7 3h-3.4zM95.9 294.3l1.7 3h-3.4zM113.8 280.9l1.7 3h-3.4zM31.0 128.1l1.7 3h-3.4zM70.8 230.0l1.7 3h-3.4zM59.6 301.8l1.7 3h-3.4zM151.7 315.2l1.7 3h-3.4zM140.4 86.6l1.7 3h-3.4zM91.7 11.7l1.7 3h-3.4zM116.8 32.3l1.7 3h-3.4zM138.9 294.8l1.7 3h-3.4zM73.7 217.9l1.7 3h-3.4zM18.4 397.5l1.7 3h-3.4zM47.2 187.1l1.7 3h-3.4zM113.5 182.2l1.7 3h-3.4zM162.9 363.9l1.7 3h-3.4zM88.3 295.5l1.7 3h-3.4zM121.6 213.7l1.7 3h-3.4zM152.0 363.0l1.7 3h-3.4zM149.4 218.1l1.7 3h-3.4zM105.4 427.9l1.7 3h-3.4zM26.9 312.5l1.7 3h-3.4zM214.0 113.6l1.7 3h-3.4zM99.2 97.7l1.7 3h-3.4zM179.8 260.9l1.7 3h-3.4zM85.9 170.9l1.7 3h-3.4zM206.4 378.8l1.7 3h-3.4zM21.0 200.3l1.7 3h-3.4zM69.9 110.5l1.7 3h-3.4zM140.1 354.3l1.7 3h-3.4zM72.1 369.7l1.7 3h-3.4zM68.5 11.8l1.7 3h-3.4zM68.0 381.0l1.7 3h-3.4zM112.6 336.9l1.7 3h-3.4zM207.3 160.6l1.7 3h-3.4zM152.1 403.0l1.7 3h-3.4zM127.4 329.6l1.7 3h-3.4zM100.5 238.6l1.7 3h-3.4zM95.5 0.4l1.7 3h-3.4zM159.1 436.4l1.7 3h-3.4zM163.0 103.6l1.7 3h-3.4zM101.9 321.9l1.7 3h-3.4zM199.2 439.2l1.7 3h-3.4zM194.8 16.4l1.7 3h-3.4zM16.9 109.6l1.7 3h-3.4zM95.7 394.0l1.7 3h-3.4zM214.0 111.6l1.7 3h-3.4zM57.2 390.9l1.7 3h-3.4zM137.3 268.8l1.7 3h-3.4zM48.1 59.5l1.7 3h-3.4zM196.6 378.6l1.7 3h-3.4zM52.4 5.2l1.7 3h-3.4zM203.2 387.6l1.7 3h-3.4zM165.6 64.1l1.7 3h-3.4zM18.5 38.3l1.7 3h-3.4zM33.9 339.4l1.7 3h-3.4zM72.4 414.2l1.7 3h-3.4zM113.9 391.8l1.7 3h-3.4zM97.6 348.1l1.7 3h-3.4zM90.4 403.8l1.7 3h-3.4zM214.0 98.4l1.7 3h-3.4zM206.4 139.5l1.7 3h-3.4zM206.5 207.9l1.7 3h-3.4zM143.5 297.8l1.7 3h-3.4zM8.4 60.3l1.7 3h-3.4zM52.3 248.6l1.7 3h-3.4zM71.5 405.6l1.7 3h-3.4zM81.7 237.9l1.7 3h-3.4zM183.6 177.7l1.7 3h-3.4zM25.2 136.7l1.7 3h-3.4zM83.3 323.8l1.7 3h-3.4zM22.0 298.6l1.7 3h-3.4zM71.6 188.4l1.7 3h-3.4zM8.9 434.9l1.7 3h-3.4zM13.2 168.2l1.7 3h-3.4zM164.6 361.7l1.7 3h-3.4zM148.8 178.2l1.7 3h-3.4zM169.2 108.2l1.7 3h-3.4zM180.3 134.5l1.7 3h-3.4zM82.1 224.5l1.7 3h-3.4zM71.5 299.3l1.7 3h-3.4zM51.6 269.7l1.7 3h-3.4zM27.4 99.6l1.7 3h-3.4zM43.8 416.2l1.7 3h-3.4zM21.8 44.4l1.7 3h-3.4zM21.5 384.3l1.7 3h-3.4zM75.3 214.7l1.7 3h-3.4zM120.9 247.0l1.7 3h-3.4zM89.3 426.7l1.7 3h-3.4zM63.2 395.1l1.7 3h-3.4zM192.3 408.5l1.7 3h-3.4zM87.5 344.8l1.7 3h-3.4zM16.6 81.1l1.7 3h-3.4zM127.5 354.1l1.7 3h-3.4zM214.0 212.5l1.7 3h-3.4zM73.3 58.2l1.7 3h-3.4zM212.1 5.3l1.7 3h-3.4zM205.4 264.4l1.7 3h-3.4zM162.7 293.2l1.7 3h-3.4zM190.5 204.3l1.7 3h-3.4zM165.3 400.0l1.7 3h-3.4zM113.3 190.6l1.7 3h-3.4zM210.3 17.7l1.7 3h-3.4zM70.2 347.8l1.7 3h-3.4zM61.9 127.6l1.7 3h-3.4zM13.0 306.2l1.7 3h-3.4zM33.6 134.7l1.7 3h-3.4zM156.9 383.8l1.7 3h-3.4zM214.0 265.0l1.7 3h-3.4zM193.5 43.8l1.7 3h-3.4zM77.0 270.9l1.7 3h-3.4zM7.1 76.1l1.7 3h-3.4zM168.7 271.5l1.7 3h-3.4zM8.6 395.7l1.7 3h-3.4zM214.0 88.6l1.7 3h-3.4zM184.1 305.1l1.7 3h-3.4zM154.2 421.3l1.7 3h-3.4zM213.0 89.3l1.7 3h-3.4zM112.1 420.3l1.7 3h-3.4zM205.8 120.9l1.7 3h-3.4zM205.4 151.1l1.7 3h-3.4zM49.3 135.6l1.7 3h-3.4zM112.2 84.8l1.7 3h-3.4zM172.4 231.1l1.7 3h-3.4zM214.0 137.5l1.7 3h-3.4zM143.6 204.0l1.7 3h-3.4zM46.7 23.7l1.7 3h-3.4zM55.2 353.8l1.7 3h-3.4zM67.6 369.8l1.7 3h-3.4zM169.6 66.7l1.7 3h-3.4zM208.0 425.4l1.7 3h-3.4zM40.1 245.0l1.7 3h-3.4zM92.8 332.0l1.7 3h-3.4zM136.6 433.1l1.7 3h-3.4zM196.9 280.6l1.7 3h-3.4zM95.4 340.5l1.7 3h-3.4zM50.6 124.0l1.7 3h-3.4zM57.4 89.5l1.7 3h-3.4zM33.5 213.5l1.7 3h-3.4zM107.2 191.6l1.7 3h-3.4zM213.9 376.6l1.7 3h-3.4zM124.9 318.2l1.7 3h-3.4zM178.6 197.8l1.7 3h-3.4zM58.1 259.4l1.7 3h-3.4zM188.6 85.7l1.7 3h-3.4zM128.3 200.4l1.7 3h-3.4zM188.3 368.1l1.7 3h-3.4zM163.4 434.3l1.7 3h-3.4zM102.5 355.9l1.7 3h-3.4zM21.4 245.1l1.7 3h-3.4zM114.7 2.7l1.7 3h-3.4zM64.7 52.7l1.7 3h-3.4zM30.7 36.9l1.7 3h-3.4zM131.5 17.9l1.7 3h-3.4zM86.0 8.0l1.7 3h-3.4zM197.9 78.4l1.7 3h-3.4zM26.7 116.0l1.7 3h-3.4zM40.9 242.2l1.7 3h-3.4zM25.7 99.0l1.7 3h-3.4zM134.9 80.3l1.7 3h-3.4zM57.1 197.6l1.7 3h-3.4zM5.9 80.5l1.7 3h-3.4zM199.7 434.6l1.7 3h-3.4zM156.4 342.2l1.7 3h-3.4zM56.3 407.4l1.7 3h-3.4zM19.6 388.7l1.7 3h-3.4zM176.4 247.4l1.7 3h-3.4zM41.8 226.5l1.7 3h-3.4zM149.2 191.8l1.7 3h-3.4zM57.2 319.6l1.7 3h-3.4zM175.6 88.8l1.7 3h-3.4zM111.6 156.9l1.7 3h-3.4zM73.4 307.5l1.7 3h-3.4zM122.0 356.3l1.7 3h-3.4zM214.0 331.6l1.7 3h-3.4zM27.9 341.3l1.7 3h-3.4zM191.0 132.7l1.7 3h-3.4zM83.3 144.8l1.7 3h-3.4zM119.6 80.0l1.7 3h-3.4zM153.0 229.4l1.7 3h-3.4zM14.0 396.1l1.7 3h-3.4zM150.4 10.5l1.7 3h-3.4zM99.4 20.4l1.7 3h-3.4zM65.6 316.8l1.7 3h-3.4zM127.1 30.2l1.7 3h-3.4zM143.6 82.2l1.7 3h-3.4zM214.0 357.1l1.7 3h-3.4zM18.0 21.4l1.7 3h-3.4zM91.5 38.5l1.7 3h-3.4zM194.8 17.2l1.7 3h-3.4zM91.9 150.8l1.7 3h-3.4zM59.2 114.0l1.7 3h-3.4zM169.0 438.6l1.7 3h-3.4zM139.8 241.6l1.7 3h-3.4zM181.7 385.9l1.7 3h-3.4zM6.1 354.9l1.7 3h-3.4zM129.3 79.0l1.7 3h-3.4zM106.0 248.5l1.7 3h-3.4zM106.5 348.1l1.7 3h-3.4zM151.7 404.1l1.7 3h-3.4zM103.9 14.0l1.7 3h-3.4zM110.6 299.3l1.7 3h-3.4zM159.9 185.2l1.7 3h-3.4zM170.8 173.0l1.7 3h-3.4zM15.4 344.7l1.7 3h-3.4zM121.5 57.3l1.7 3h-3.4zM2.2 48.6l1.7 3h-3.4zM81.9 294.9l1.7 3h-3.4zM25.8 15.5l1.7 3h-3.4zM58.8 119.7l1.7 3h-3.4zM187.8 169.1l1.7 3h-3.4zM27.1 19.1l1.7 3h-3.4zM13.0 392.4l1.7 3h-3.4zM104.4 164.7l1.7 3h-3.4zM51.6 403.7l1.7 3h-3.4zM32.1 254.0l1.7 3h-3.4zM31.3 139.7l1.7 3h-3.4zM199.9 111.0l1.7 3h-3.4zM147.8 154.7l1.7 3h-3.4zM86.8 142.1l1.7 3h-3.4zM152.6 276.2l1.7 3h-3.4zM67.6 34.9l1.7 3h-3.4zM83.8 387.1l1.7 3h-3.4zM173.1 174.6l1.7 3h-3.4zM97.7 326.4l1.7 3h-3.4zM54.9 354.7l1.7 3h-3.4zM211.3 13.0l1.7 3h-3.4zM17.8 158.3l1.7 3h-3.4zM135.4 258.9l1.7 3h-3.4zM164.6 117.0l1.7 3h-3.4zM49.1 243.1l1.7 3h-3.4zM211.0 44.8l1.7 3h-3.4zM160.7 362.8l1.7 3h-3.4zM31.8 142.8l1.7 3h-3.4zM37.8 131.9l1.7 3h-3.4zM61.2 398.7l1.7 3h-3.4zM212.8 173.8l1.7 3h-3.4zM66.6 91.0l1.7 3h-3.4zM119.0 179.1l1.7 3h-3.4zM87.5 141.9l1.7 3h-3.4zM175.5 98.0l1.7 3h-3.4zM124.7 141.9l1.7 3h-3.4zM54.4 243.9l1.7 3h-3.4zM145.6 417.4l1.7 3h-3.4zM55.4 171.2l1.7 3h-3.4zM195.1 24.7l1.7 3h-3.4zM22.0 196.1l1.7 3h-3.4zM26.2 368.9l1.7 3h-3.4zM112.9 332.1l1.7 3h-3.4zM116.7 19.1l1.7 3h-3.4zM60.9 219.0l1.7 3h-3.4zM34.2 206.6l1.7 3h-3.4zM132.4 168.0l1.7 3h-3.4zM207.2 331.7l1.7 3h-3.4zM62.0 85.1l1.7 3h-3.4zM171.1 225.5l1.7 3h-3.4zM92.8 420.9l1.7 3h-3.4zM46.0 6.7l1.7 3h-3.4zM75.1 319.8l1.7 3h-3.4zM187.9 32.2l1.7 3h-3.4zM69.1 413.9l1.7 3h-3.4zM79.6 44.5l1.7 3h-3.4zM82.8 422.3l1.7 3h-3.4zM8.6 300.4l1.7 3h-3.4zM29.2 39.6l1.7 3h-3.4zM156.3 87.1l1.7 3h-3.4zM43.0 2.0l1.7 3h-3.4zM141.6 92.2l1.7 3h-3.4zM189.9 73.1l1.7 3h-3.4zM201.5 268.8l1.7 3h-3.4zM92.3 17.0l1.7 3h-3.4zM88.6 64.8l1.7 3h-3.4zM60.8 386.7l1.7 3h-3.4zM22.2 226.5l1.7 3h-3.4zM204.5 51.7l1.7 3h-3.4zM145.5 200.6l1.7 3h-3.4zM97.0 358.9l1.7 3h-3.4zM72.7 257.5l1.7 3h-3.4zM42.0 317.3l1.7 3h-3.4zM30.0 394.4l1.7 3h-3.4zM19.0 182.0l1.7 3h-3.4zM141.4 199.8l1.7 3h-3.4zM58.9 22.5l1.7 3h-3.4zM192.4 418.3l1.7 3h-3.4zM214.0 215.1l1.7 3h-3.4zM140.2 27.2l1.7 3h-3.4zM196.1 380.9l1.7 3h-3.4zM213.5 29.7l1.7 3h-3.4zM103.6 317.0l1.7 3h-3.4zM178.0 227.2l1.7 3h-3.4zM39.9 8.4l1.7 3h-3.4zM55.7 357.3l1.7 3h-3.4zM203.7 37.7l1.7 3h-3.4zM178.4 388.5l1.7 3h-3.4zM181.2 276.2l1.7 3h-3.4zM109.6 55.2l1.7 3h-3.4zM16.9 39.6l1.7 3h-3.4zM127.2 205.6l1.7 3h-3.4zM184.7 78.4l1.7 3h-3.4zM182.2 68.5l1.7 3h-3.4zM187.8 176.1l1.7 3h-3.4zM176.3 101.1l1.7 3h-3.4zM38.0 355.6l1.7 3h-3.4zM25.4 132.7l1.7 3h-3.4zM107.8 406.3l1.7 3h-3.4zM115.8 289.5l1.7 3h-3.4zM161.1 83.6l1.7 3h-3.4zM108.2 398.1l1.7 3h-3.4zM12.9 360.1l1.7 3h-3.4zM83.5 285.8l1.7 3h-3.4zM102.5 148.1l1.7 3h-3.4zM86.7 98.4l1.7 3h-3.4zM116.5 174.9l1.7 3h-3.4zM157.4 164.7l1.7 3h-3.4zM174.7 333.4l1.7 3h-3.4zM80.2 132.9l1.7 3h-3.4zM130.6 163.4l1.7 3h-3.4zM183.4 94.3l1.7 3h-3.4zM204.0 193.0l1.7 3h-3.4zM146.1 38.0l1.7 3h-3.4zM172.5 166.0l1.7 3h-3.4zM61.9 440.3l1.7 3h-3.4zM2.0 31.6l1.7 3h-3.4zM200.1 331.6l1.7 3h-3.4zM31.9 361.1l1.7 3h-3.4zM176.1 76.3l1.7 3h-3.4zM14.5 76.0l1.7 3h-3.4zM69.8 323.7l1.7 3h-3.4zM178.4 421.9l1.7 3h-3.4zM86.2 304.4l1.7 3h-3.4zM87.7 427.2l1.7 3h-3.4zM28.2 384.8l1.7 3h-3.4zM191.7 197.7l1.7 3h-3.4zM94.6 351.8l1.7 3h-3.4zM136.5 267.5l1.7 3h-3.4zM75.4 72.5l1.7 3h-3.4zM68.3 256.5l1.7 3h-3.4zM165.4 65.4l1.7 3h-3.4zM62.2 32.8l1.7 3h-3.4zM123.9 113.5l1.7 3h-3.4zM80.1 182.7l1.7 3h-3.4zM40.1 182.5l1.7 3h-3.4zM209.6 49.1l1.7 3h-3.4zM181.7 15.8l1.7 3h-3.4zM143.5 274.2l1.7 3h-3.4zM77.6 133.4l1.7 3h-3.4zM178.1 89.8l1.7 3h-3.4zM42.3 74.5l1.7 3h-3.4zM148.0 175.9l1.7 3h-3.4zM183.8 320.2l1.7 3h-3.4zM104.0 25.7l1.7 3h-3.4zM120.9 116.0l1.7 3h-3.4zM201.3 388.6l1.7 3h-3.4zM184.2 376.5l1.7 3h-3.4zM32.7 374.8l1.7 3h-3.4zM137.4 135.2l1.7 3h-3.4zM135.3 311.2l1.7 3h-3.4zM156.6 415.6l1.7 3h-3.4zM40.3 170.9l1.7 3h-3.4zM198.4 327.2l1.7 3h-3.4zM214.0 60.7l1.7 3h-3.4zM186.9 27.4l1.7 3h-3.4zM107.3 12.7l1.7 3h-3.4zM208.6 405.1l1.7 3h-3.4z" fill="#fff"/>
<path d="M173.9 148.7l1.7 3h-3.4z" fill="#d73229"/>
<path d="M185.9 256.5l1.7 3h-3.4z" fill="#d73229"/>
<path d="M208.3 255.3l1.7 3h-3.4z" fill="#d73229"/>
<path d="M206.8 285.8l1.7 3h-3.4z" fill="#d73229"/>
<path d="M213.8 289.5l1.7 3h-3.4z" fill="#d73229"/>
<path d="M195.0 302.7l1.7 3h-3.4z" fill="#d73229"/>
<path d="M201.0 300.2l1.7 3h-3.4z" fill="#d73229"/>
<path d="M209.3 303.6l1.7 3h-3.4z" fill="#d73229"/>
<path d="M199.7 331.3l1.7 3h-3.4z" fill="#f4b6b6"/>
<path d="M204.7 338.0l1.7 3h-3.4z" fill="#000"/>
<path d="M172.7 437.5l1.7 3h-3.4z" fill="#d73229"/>
<path d="M151.4 401.7l1.7 3h-3.4z" fill="#000"/>
<circle cx="234.9" cy="144.2" r="3.3" fill="#345da9"/>
<circle cx="323.7" cy="147.4" r="3.3" fill="#d73229"/>
<circle cx="319.6" cy="232.1" r="3.3" fill="#345da9"/>
<circle cx="366.5" cy="253.3" r="3.3" fill="#345da9"/>
<circle cx="249.4" cy="376.3" r="3.3" fill="#d73229"/>
<circle cx="224.2" cy="393.9" r="3.3" fill="#345da9"/>
<circle cx="370" cy="66.2" r="3.2" fill="#fff"/>
<circle cx="433.3" cy="158" r="3.2" fill="#fff"/>
<circle cx="292" cy="147.8" r="2.6" fill="#fff"/>
<circle cx="362.4" cy="279.3" r="3.2" fill="#fff"/>
<circle cx="386.4" cy="295.1" r="3.2" fill="#fff"/>
<circle cx="340.5" cy="302.3" r="3.2" fill="#fff"/>
<circle cx="426.2" cy="365" r="3.2" fill="#fff"/>
<circle cx="317.7" cy="413.8" r="3.2" fill="#fff"/>
<circle cx="332.8" cy="437.5" r="3.2" fill="#fff"/>
<rect x="267.1" y="34.7" width="3.2" height="3.2" fill="#000"/>
<rect x="320.0" y="158.1" width="3.2" height="3.2" fill="#000"/>
<rect x="228.0" y="373.5" width="3.2" height="3.2" fill="#000"/>
<rect x="233.4" y="264.5" width="3" height="3" fill="#d73229"/>
</svg></div>
</body></html>
